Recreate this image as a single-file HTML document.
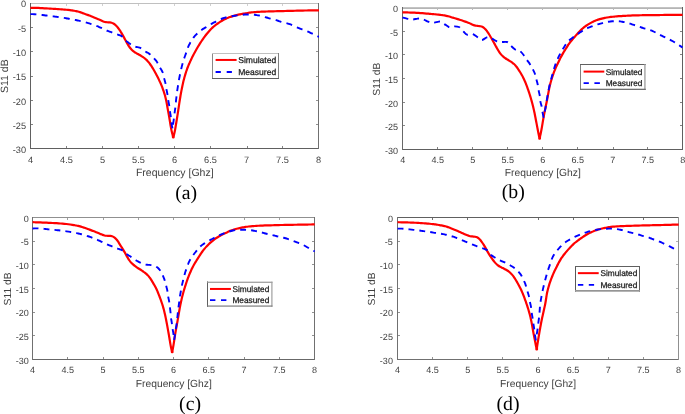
<!DOCTYPE html>
<html lang="en"><head><meta charset="utf-8"><title>S11 plots</title>
<style>
html,body{margin:0;padding:0;background:#fff;}
body{width:685px;height:414px;overflow:hidden;}
svg{display:block;}
text{text-rendering:geometricPrecision;}
.t{font-family:"Liberation Sans",Arial,Helvetica,sans-serif;fill:#404040;}
.lg{stroke:#1a1a1a;stroke-width:0.25px;}
.cap{font-family:"Liberation Serif","Times New Roman",serif;fill:#000;}
</style></head><body>
<svg width="685" height="414" viewBox="0 0 685 414">
<rect width="685" height="414" fill="#fff"/>
<g id="plot-a">
<clipPath id="clip-a"><rect x="30" y="3" width="289" height="146"/></clipPath>
<g shape-rendering="crispEdges">
<rect x="30" y="3" width="289" height="1" fill="#c0c0c0"/><rect x="30" y="148" width="289" height="1" fill="#606060"/><rect x="30" y="3" width="1" height="146" fill="#606060"/><rect x="318" y="3" width="1" height="146" fill="#707070"/>
</g>
<g shape-rendering="crispEdges">
<rect x="66" y="146" width="1" height="2" fill="#828282"/><rect x="66" y="4" width="1" height="2" fill="#d0d0d0"/><rect x="102" y="146" width="1" height="2" fill="#828282"/><rect x="102" y="4" width="1" height="2" fill="#d0d0d0"/><rect x="138" y="146" width="1" height="2" fill="#828282"/><rect x="138" y="4" width="1" height="2" fill="#d0d0d0"/><rect x="174" y="146" width="1" height="2" fill="#828282"/><rect x="174" y="4" width="1" height="2" fill="#d0d0d0"/><rect x="210" y="146" width="1" height="2" fill="#828282"/><rect x="210" y="4" width="1" height="2" fill="#d0d0d0"/><rect x="247" y="146" width="1" height="2" fill="#828282"/><rect x="247" y="4" width="1" height="2" fill="#d0d0d0"/><rect x="282" y="146" width="1" height="2" fill="#828282"/><rect x="282" y="4" width="1" height="2" fill="#d0d0d0"/>
<rect x="31" y="27" width="2" height="1" fill="#828282"/><rect x="316" y="27" width="2" height="1" fill="#929292"/><rect x="31" y="51" width="2" height="1" fill="#828282"/><rect x="316" y="51" width="2" height="1" fill="#929292"/><rect x="31" y="76" width="2" height="1" fill="#828282"/><rect x="316" y="76" width="2" height="1" fill="#929292"/><rect x="31" y="100" width="2" height="1" fill="#828282"/><rect x="316" y="100" width="2" height="1" fill="#929292"/><rect x="31" y="124" width="2" height="1" fill="#828282"/><rect x="316" y="124" width="2" height="1" fill="#929292"/>
</g>
<g clip-path="url(#clip-a)" fill="none" stroke-linejoin="round">
<path d="M30.40 7.80C30.73 7.80 31.73 7.81 32.40 7.82C33.07 7.83 33.73 7.83 34.40 7.85C35.07 7.86 35.74 7.88 36.40 7.90C37.07 7.92 37.73 7.94 38.40 7.97C39.07 8.00 39.73 8.03 40.40 8.07C41.07 8.10 41.73 8.14 42.40 8.17C43.06 8.21 43.73 8.24 44.40 8.28C45.06 8.32 45.73 8.36 46.39 8.40C47.06 8.43 47.73 8.47 48.39 8.51C49.06 8.55 49.72 8.59 50.39 8.63C51.05 8.67 51.72 8.71 52.39 8.76C53.05 8.80 53.72 8.84 54.38 8.88C55.05 8.93 55.76 8.97 56.38 9.01C57.00 9.06 57.50 9.09 58.13 9.13C58.75 9.18 59.46 9.23 60.12 9.27C60.79 9.32 61.45 9.37 62.12 9.42C62.78 9.47 63.45 9.52 64.11 9.57C64.78 9.63 65.44 9.68 66.11 9.74C66.77 9.80 67.43 9.86 68.10 9.93C68.76 10.00 69.42 10.08 70.09 10.16C70.75 10.24 71.41 10.33 72.07 10.43C72.73 10.52 73.39 10.62 74.05 10.73C74.70 10.84 75.36 10.95 76.01 11.08C76.67 11.22 77.32 11.36 77.96 11.53C78.61 11.70 79.24 11.90 79.88 12.10C80.51 12.31 81.14 12.54 81.76 12.77C82.39 13.00 83.01 13.24 83.64 13.47C84.26 13.70 84.89 13.93 85.51 14.16C86.14 14.39 86.77 14.61 87.40 14.84C88.02 15.06 88.65 15.29 89.28 15.53C89.90 15.76 90.52 16.00 91.14 16.25C91.76 16.50 92.37 16.76 92.99 17.02C93.60 17.29 94.21 17.56 94.82 17.82C95.44 18.08 96.05 18.34 96.67 18.59C97.29 18.84 97.92 19.06 98.53 19.30C99.15 19.55 99.76 19.80 100.36 20.08C100.97 20.36 101.54 20.71 102.14 20.99C102.74 21.26 103.35 21.54 103.97 21.74C104.60 21.93 105.25 22.07 105.91 22.16C106.56 22.25 107.23 22.26 107.89 22.30C108.56 22.33 109.27 22.32 109.88 22.39C110.50 22.45 110.99 22.51 111.58 22.69C112.16 22.87 112.81 23.14 113.38 23.46C113.96 23.77 114.50 24.17 115.01 24.59C115.52 25.01 116.00 25.48 116.46 25.96C116.92 26.44 117.34 26.95 117.76 27.47C118.18 27.99 118.57 28.53 118.95 29.07C119.34 29.61 119.70 30.17 120.07 30.73C120.43 31.29 120.77 31.86 121.12 32.43C121.46 33.00 121.80 33.58 122.14 34.16C122.47 34.73 122.80 35.31 123.13 35.90C123.45 36.48 123.77 37.06 124.09 37.65C124.41 38.23 124.73 38.82 125.04 39.41C125.36 40.00 125.67 40.58 125.99 41.17C126.30 41.76 126.61 42.35 126.93 42.94C127.25 43.52 127.57 44.10 127.92 44.67C128.26 45.24 128.62 45.81 129.00 46.36C129.37 46.91 129.76 47.45 130.18 47.97C130.59 48.49 131.02 49.01 131.47 49.49C131.93 49.96 132.42 50.42 132.93 50.85C133.43 51.28 133.97 51.67 134.52 52.04C135.07 52.42 135.65 52.75 136.22 53.09C136.80 53.43 137.39 53.74 137.97 54.07C138.55 54.40 139.12 54.73 139.70 55.07C140.27 55.41 140.84 55.76 141.40 56.12C141.97 56.47 142.53 56.83 143.08 57.21C143.63 57.58 144.18 57.96 144.70 58.38C145.22 58.79 145.76 59.25 146.22 59.67C146.67 60.10 147.02 60.46 147.45 60.91C147.88 61.37 148.35 61.89 148.77 62.41C149.20 62.92 149.60 63.45 149.99 63.99C150.38 64.53 150.75 65.09 151.12 65.65C151.48 66.20 151.84 66.76 152.20 67.33C152.56 67.89 152.91 68.46 153.25 69.03C153.59 69.60 153.93 70.18 154.26 70.75C154.59 71.33 154.92 71.92 155.24 72.50C155.56 73.09 155.88 73.67 156.19 74.26C156.50 74.85 156.80 75.45 157.11 76.04C157.41 76.63 157.71 77.23 158.01 77.83C158.31 78.42 158.60 79.02 158.89 79.62C159.19 80.22 159.48 80.82 159.76 81.42C160.04 82.03 160.32 82.63 160.59 83.24C160.86 83.85 161.12 84.47 161.37 85.08C161.63 85.70 161.87 86.32 162.11 86.95C162.35 87.57 162.57 88.20 162.80 88.82C163.02 89.45 163.24 90.08 163.46 90.71C163.67 91.34 163.88 91.98 164.08 92.61C164.29 93.25 164.49 93.88 164.68 94.52C164.87 95.16 165.05 95.80 165.23 96.45C165.40 97.09 165.56 97.74 165.72 98.39C165.87 99.04 166.01 99.69 166.15 100.34C166.29 100.99 166.42 101.65 166.55 102.30C166.67 102.95 166.79 103.61 166.91 104.27C167.03 104.92 167.14 105.58 167.25 106.24C167.37 106.90 167.48 107.55 167.60 108.21C167.71 108.87 167.84 109.56 167.95 110.18C168.06 110.80 168.15 111.29 168.26 111.90C168.38 112.52 168.50 113.21 168.62 113.87C168.74 114.53 168.86 115.18 168.98 115.84C169.09 116.50 169.21 117.15 169.32 117.81C169.44 118.47 169.55 119.13 169.66 119.78C169.77 120.44 169.88 121.10 169.99 121.76C170.09 122.42 170.20 123.07 170.30 123.73C170.41 124.39 170.51 125.05 170.62 125.71C170.73 126.37 170.84 127.02 170.96 127.68C171.08 128.34 171.20 128.99 171.33 129.65C171.46 130.30 171.60 130.95 171.75 131.60C171.90 132.25 172.07 132.90 172.23 133.54C172.40 134.19 172.63 134.83 172.76 135.47C172.89 136.12 172.96 137.08 173.00 137.40L173.60 137.40C173.64 137.08 173.70 136.12 173.82 135.47C173.94 134.83 174.15 134.18 174.31 133.53C174.46 132.88 174.60 132.23 174.73 131.58C174.87 130.93 174.99 130.27 175.11 129.62C175.23 128.96 175.34 128.31 175.46 127.65C175.57 126.99 175.68 126.33 175.79 125.68C175.90 125.02 176.00 124.36 176.11 123.70C176.22 123.04 176.32 122.39 176.43 121.73C176.54 121.07 176.64 120.41 176.75 119.75C176.86 119.10 176.96 118.44 177.07 117.78C177.17 117.12 177.28 116.46 177.38 115.80C177.49 115.15 177.59 114.49 177.70 113.83C177.80 113.17 177.90 112.51 178.01 111.85C178.11 111.19 178.22 110.49 178.31 109.88C178.41 109.26 178.48 108.76 178.57 108.15C178.67 107.53 178.77 106.83 178.87 106.17C178.97 105.51 179.07 104.85 179.17 104.19C179.27 103.53 179.37 102.87 179.47 102.21C179.57 101.55 179.67 100.89 179.77 100.24C179.88 99.58 179.98 98.92 180.09 98.26C180.20 97.60 180.31 96.94 180.42 96.29C180.53 95.63 180.64 94.97 180.76 94.32C180.87 93.66 180.99 93.00 181.11 92.35C181.23 91.69 181.36 91.04 181.48 90.38C181.61 89.73 181.74 89.08 181.87 88.42C182.00 87.77 182.14 87.12 182.28 86.46C182.41 85.81 182.55 85.16 182.70 84.51C182.84 83.86 182.99 83.21 183.14 82.56C183.29 81.91 183.44 81.26 183.60 80.61C183.76 79.97 183.93 79.32 184.10 78.67C184.27 78.03 184.44 77.39 184.62 76.75C184.80 76.10 184.99 75.46 185.18 74.82C185.37 74.19 185.56 73.55 185.76 72.91C185.97 72.28 186.17 71.64 186.39 71.01C186.60 70.38 186.82 69.75 187.05 69.13C187.28 68.50 187.51 67.88 187.75 67.26C188.00 66.64 188.25 66.02 188.51 65.41C188.76 64.79 189.03 64.18 189.30 63.57C189.56 62.96 189.84 62.35 190.11 61.74C190.38 61.13 190.66 60.53 190.94 59.92C191.23 59.32 191.51 58.72 191.80 58.12C192.09 57.52 192.39 56.92 192.69 56.32C192.99 55.73 193.31 55.10 193.60 54.55C193.89 53.99 194.13 53.55 194.43 53.00C194.72 52.45 195.07 51.83 195.39 51.25C195.71 50.67 196.04 50.09 196.37 49.51C196.70 48.93 197.04 48.35 197.37 47.78C197.71 47.20 198.05 46.63 198.39 46.06C198.73 45.48 199.08 44.91 199.43 44.35C199.78 43.78 200.14 43.22 200.50 42.66C200.86 42.10 201.22 41.54 201.59 40.99C201.96 40.43 202.34 39.88 202.72 39.33C203.10 38.79 203.49 38.24 203.88 37.70C204.27 37.16 204.66 36.63 205.06 36.09C205.47 35.56 205.87 35.03 206.28 34.51C206.70 33.99 207.11 33.47 207.54 32.95C207.96 32.44 208.39 31.93 208.83 31.43C209.26 30.93 209.71 30.43 210.17 29.95C210.62 29.46 211.09 28.99 211.57 28.53C212.04 28.06 212.53 27.61 213.03 27.17C213.53 26.73 214.04 26.30 214.56 25.88C215.07 25.47 215.60 25.06 216.13 24.66C216.66 24.25 217.20 23.86 217.74 23.48C218.29 23.10 218.84 22.72 219.40 22.36C219.95 21.99 220.52 21.64 221.09 21.29C221.66 20.95 222.23 20.61 222.81 20.29C223.39 19.96 223.98 19.65 224.57 19.35C225.17 19.05 225.77 18.77 226.38 18.50C226.98 18.23 227.60 17.97 228.22 17.73C228.84 17.48 229.46 17.25 230.09 17.03C230.72 16.81 231.39 16.59 231.98 16.39C232.58 16.20 233.05 16.05 233.65 15.88C234.25 15.70 234.93 15.50 235.58 15.33C236.22 15.16 236.87 14.99 237.51 14.84C238.16 14.68 238.81 14.54 239.46 14.40C240.11 14.26 240.77 14.13 241.42 14.00C242.08 13.88 242.73 13.76 243.39 13.64C244.05 13.53 244.70 13.42 245.36 13.31C246.02 13.20 246.68 13.10 247.34 13.00C248.00 12.90 248.65 12.80 249.32 12.71C249.98 12.62 250.64 12.54 251.30 12.46C251.96 12.38 252.62 12.30 253.29 12.23C253.95 12.17 254.61 12.10 255.28 12.05C255.94 11.99 256.60 11.94 257.27 11.90C257.93 11.85 258.60 11.82 259.27 11.78C259.93 11.75 260.60 11.72 261.26 11.69C261.93 11.66 262.60 11.64 263.26 11.62C263.93 11.59 264.59 11.57 265.26 11.55C265.93 11.53 266.59 11.51 267.26 11.49C267.93 11.47 268.59 11.45 269.26 11.43C269.93 11.41 270.59 11.39 271.26 11.37C271.93 11.36 272.59 11.34 273.26 11.32C273.92 11.30 274.59 11.28 275.26 11.27C275.92 11.25 276.59 11.23 277.26 11.21C277.92 11.19 278.59 11.17 279.26 11.16C279.92 11.14 280.59 11.12 281.26 11.10C281.92 11.08 282.59 11.06 283.26 11.04C283.92 11.02 284.59 11.00 285.25 10.99C285.92 10.97 286.59 10.95 287.25 10.93C287.92 10.91 288.63 10.89 289.25 10.88C289.88 10.86 290.38 10.85 291.00 10.83C291.63 10.81 292.34 10.80 293.00 10.78C293.67 10.76 294.34 10.74 295.00 10.73C295.67 10.71 296.34 10.69 297.00 10.68C297.67 10.66 298.33 10.65 299.00 10.63C299.67 10.62 300.33 10.60 301.00 10.59C301.67 10.58 302.33 10.56 303.00 10.55C303.67 10.54 304.33 10.53 305.00 10.51C305.67 10.50 306.33 10.49 307.00 10.48C307.67 10.47 308.33 10.46 309.00 10.45C309.67 10.44 310.33 10.43 311.00 10.42C311.67 10.41 312.33 10.40 313.00 10.39C313.67 10.38 314.33 10.37 315.00 10.36C315.67 10.35 316.33 10.34 317.00 10.33C317.67 10.32 318.67 10.30 319.00 10.30" stroke="#ff0000" stroke-width="2.20"/>
<path d="M30.40 14.10C30.73 14.11 31.73 14.12 32.40 14.14C33.07 14.16 33.73 14.18 34.40 14.21C35.07 14.24 35.73 14.28 36.40 14.34C37.06 14.39 37.72 14.46 38.39 14.52C39.05 14.59 39.71 14.67 40.37 14.75C41.04 14.83 41.70 14.91 42.36 15.00C43.02 15.08 43.68 15.16 44.35 15.24C45.01 15.32 45.67 15.40 46.33 15.49C46.99 15.57 47.65 15.65 48.32 15.73C48.98 15.82 49.64 15.90 50.30 15.98C50.96 16.07 51.62 16.15 52.29 16.24C52.95 16.33 53.61 16.41 54.27 16.50C54.93 16.59 55.63 16.69 56.25 16.77C56.87 16.85 57.37 16.92 57.99 17.01C58.61 17.09 59.31 17.19 59.97 17.28C60.63 17.38 61.29 17.47 61.95 17.57C62.61 17.67 63.27 17.77 63.93 17.87C64.58 17.97 65.24 18.08 65.90 18.19C66.56 18.30 67.22 18.41 67.87 18.53C68.53 18.64 69.19 18.76 69.84 18.88C70.50 19.00 71.15 19.12 71.81 19.25C72.46 19.37 73.12 19.50 73.77 19.63C74.43 19.76 75.08 19.90 75.73 20.03C76.38 20.17 77.04 20.31 77.69 20.45C78.34 20.59 78.99 20.74 79.64 20.88C80.29 21.03 80.94 21.17 81.59 21.32C82.24 21.47 82.89 21.63 83.54 21.79C84.19 21.95 84.83 22.12 85.48 22.29C86.12 22.47 86.76 22.65 87.40 22.84C88.04 23.02 88.68 23.22 89.31 23.42C89.95 23.63 90.58 23.84 91.21 24.05C91.84 24.27 92.47 24.49 93.10 24.71C93.73 24.93 94.36 25.16 94.98 25.39C95.61 25.62 96.24 25.85 96.86 26.08C97.48 26.32 98.11 26.56 98.72 26.81C99.34 27.05 99.96 27.30 100.57 27.57C101.18 27.84 101.78 28.13 102.38 28.43C102.97 28.72 103.56 29.05 104.15 29.35C104.75 29.64 105.39 29.95 105.96 30.20C106.53 30.46 107.00 30.64 107.58 30.86C108.16 31.08 108.83 31.32 109.46 31.54C110.08 31.77 110.71 31.99 111.34 32.22C111.97 32.45 112.59 32.69 113.21 32.92C113.84 33.16 114.46 33.40 115.09 33.63C115.71 33.86 116.34 34.10 116.96 34.32C117.59 34.55 118.22 34.76 118.85 34.99C119.47 35.22 120.11 35.43 120.70 35.72C121.30 36.00 121.89 36.30 122.41 36.69C122.93 37.08 123.38 37.56 123.82 38.05C124.26 38.54 124.60 39.11 125.03 39.62C125.45 40.13 125.88 40.63 126.36 41.08C126.84 41.54 127.37 41.94 127.90 42.34C128.43 42.75 128.98 43.12 129.53 43.51C130.07 43.90 130.61 44.29 131.16 44.66C131.71 45.04 132.25 45.43 132.83 45.75C133.41 46.07 134.00 46.37 134.62 46.58C135.24 46.79 135.90 46.91 136.54 47.04C137.19 47.17 137.86 47.21 138.50 47.36C139.14 47.51 139.78 47.69 140.37 47.96C140.97 48.23 141.53 48.59 142.07 48.96C142.62 49.33 143.12 49.78 143.66 50.18C144.19 50.57 144.72 50.98 145.27 51.35C145.82 51.72 146.41 52.04 146.98 52.38C147.55 52.72 148.14 53.03 148.70 53.39C149.25 53.76 149.82 54.18 150.29 54.58C150.77 54.97 151.13 55.33 151.57 55.77C152.01 56.21 152.49 56.73 152.95 57.21C153.40 57.70 153.86 58.19 154.30 58.68C154.75 59.18 155.20 59.67 155.62 60.19C156.04 60.70 156.45 61.23 156.82 61.78C157.19 62.33 157.52 62.91 157.83 63.49C158.15 64.08 158.42 64.69 158.72 65.28C159.03 65.88 159.33 66.47 159.66 67.05C159.99 67.63 160.36 68.18 160.71 68.75C161.06 69.31 161.44 69.86 161.76 70.44C162.08 71.02 162.38 71.62 162.61 72.23C162.85 72.85 163.02 73.49 163.19 74.14C163.35 74.78 163.46 75.44 163.60 76.09C163.75 76.74 163.89 77.39 164.05 78.04C164.22 78.68 164.41 79.32 164.59 79.96C164.77 80.61 164.97 81.24 165.13 81.89C165.30 82.53 165.45 83.18 165.57 83.84C165.69 84.49 165.78 85.15 165.87 85.81C165.97 86.47 166.05 87.13 166.16 87.79C166.26 88.45 166.39 89.10 166.52 89.76C166.65 90.41 166.81 91.06 166.94 91.71C167.08 92.36 167.21 93.02 167.33 93.67C167.44 94.33 167.54 94.99 167.63 95.65C167.72 96.31 167.79 96.97 167.88 97.64C167.96 98.30 168.04 98.96 168.14 99.62C168.24 100.28 168.37 100.97 168.48 101.59C168.59 102.20 168.71 102.69 168.82 103.30C168.94 103.92 169.07 104.61 169.18 105.27C169.28 105.93 169.36 106.59 169.44 107.25C169.52 107.92 169.59 108.58 169.67 109.24C169.75 109.90 169.82 110.57 169.92 111.23C170.02 111.88 170.14 112.54 170.25 113.20C170.36 113.85 170.49 114.51 170.60 115.17C170.70 115.83 170.78 116.49 170.85 117.15C170.92 117.81 170.96 118.48 171.01 119.14C171.07 119.81 171.10 120.47 171.17 121.14C171.24 121.80 171.32 122.46 171.42 123.12C171.51 123.78 171.64 124.43 171.76 125.09C171.89 125.74 172.03 126.39 172.17 127.05C172.31 127.70 172.53 128.67 172.60 129.00C172.63 128.67 172.73 127.67 172.79 127.01C172.86 126.35 172.93 125.68 173.01 125.02C173.09 124.36 173.17 123.70 173.26 123.04C173.35 122.38 173.45 121.72 173.54 121.06C173.64 120.40 173.73 119.74 173.82 119.08C173.91 118.42 174.00 117.76 174.08 117.10C174.16 116.43 174.24 115.77 174.32 115.11C174.40 114.45 174.48 113.79 174.57 113.13C174.66 112.47 174.75 111.81 174.84 111.15C174.94 110.49 175.04 109.83 175.12 109.17C175.21 108.51 175.30 107.85 175.38 107.18C175.45 106.52 175.52 105.86 175.59 105.20C175.65 104.53 175.71 103.87 175.77 103.20C175.83 102.54 175.89 101.88 175.96 101.21C176.02 100.55 176.10 99.89 176.17 99.22C176.24 98.56 176.32 97.90 176.40 97.24C176.48 96.58 176.56 95.91 176.64 95.25C176.72 94.59 176.80 93.93 176.89 93.27C176.98 92.61 177.06 91.99 177.15 91.29C177.25 90.58 177.37 89.76 177.48 89.06C177.58 88.36 177.68 87.74 177.78 87.08C177.89 86.42 177.99 85.77 178.10 85.11C178.20 84.45 178.30 83.79 178.41 83.13C178.52 82.47 178.63 81.82 178.74 81.16C178.85 80.50 178.96 79.84 179.08 79.19C179.20 78.53 179.33 77.88 179.45 77.22C179.58 76.57 179.71 75.92 179.84 75.26C179.98 74.61 180.11 73.96 180.25 73.30C180.38 72.65 180.52 72.00 180.66 71.35C180.80 70.69 180.94 70.04 181.10 69.39C181.25 68.75 181.40 68.10 181.57 67.45C181.73 66.80 181.90 66.16 182.07 65.52C182.24 64.87 182.42 64.23 182.60 63.59C182.78 62.95 182.96 62.30 183.15 61.66C183.34 61.03 183.53 60.39 183.73 59.75C183.93 59.11 184.13 58.48 184.35 57.85C184.56 57.22 184.79 56.59 185.02 55.97C185.25 55.34 185.49 54.72 185.71 54.09C185.94 53.47 186.16 52.84 186.37 52.21C186.59 51.58 186.78 50.94 186.99 50.31C187.20 49.68 187.39 49.04 187.61 48.41C187.83 47.79 188.06 47.16 188.31 46.55C188.57 45.94 188.85 45.34 189.15 44.75C189.45 44.15 189.78 43.58 190.11 43.00C190.43 42.42 190.78 41.85 191.12 41.28C191.46 40.71 191.81 40.14 192.17 39.58C192.53 39.02 192.90 38.46 193.29 37.93C193.68 37.39 194.09 36.87 194.52 36.37C194.95 35.86 195.41 35.38 195.87 34.90C196.33 34.43 196.82 33.97 197.30 33.51C197.79 33.06 198.29 32.61 198.79 32.18C199.30 31.74 199.80 31.31 200.33 30.90C200.85 30.49 201.38 30.09 201.93 29.71C202.47 29.33 203.03 28.97 203.59 28.62C204.15 28.26 204.73 27.93 205.30 27.59C205.87 27.24 206.44 26.90 207.01 26.56C207.58 26.21 208.11 25.88 208.71 25.51C209.32 25.14 210.02 24.70 210.63 24.34C211.24 23.98 211.79 23.67 212.37 23.35C212.95 23.03 213.55 22.72 214.14 22.42C214.73 22.11 215.33 21.82 215.93 21.53C216.53 21.23 217.13 20.94 217.73 20.65C218.33 20.37 218.93 20.08 219.54 19.80C220.14 19.52 220.75 19.25 221.36 19.00C221.98 18.74 222.60 18.49 223.22 18.27C223.85 18.05 224.48 17.84 225.12 17.65C225.76 17.47 226.40 17.30 227.05 17.14C227.69 16.98 228.35 16.85 229.00 16.71C229.65 16.58 230.31 16.46 230.96 16.34C231.62 16.22 232.28 16.11 232.93 16.00C233.59 15.90 234.25 15.80 234.91 15.70C235.57 15.60 236.23 15.51 236.89 15.42C237.55 15.33 238.21 15.24 238.87 15.16C239.54 15.07 240.20 14.99 240.86 14.91C241.52 14.84 242.18 14.76 242.85 14.70C243.51 14.64 244.17 14.59 244.84 14.55C245.50 14.51 246.17 14.49 246.84 14.47C247.50 14.45 248.17 14.44 248.83 14.45C249.50 14.45 250.17 14.46 250.83 14.49C251.50 14.52 252.16 14.56 252.83 14.61C253.49 14.66 254.15 14.73 254.81 14.81C255.47 14.89 256.13 14.98 256.79 15.09C257.45 15.19 258.10 15.32 258.76 15.45C259.41 15.58 260.06 15.73 260.70 15.89C261.35 16.05 261.99 16.22 262.64 16.40C263.28 16.58 263.92 16.77 264.56 16.96C265.20 17.14 265.83 17.34 266.47 17.53C267.11 17.72 267.75 17.91 268.39 18.09C269.03 18.27 269.68 18.45 270.32 18.62C270.96 18.79 271.61 18.95 272.26 19.11C272.90 19.28 273.55 19.43 274.20 19.60C274.84 19.77 275.48 19.94 276.12 20.14C276.75 20.33 277.39 20.54 278.02 20.75C278.65 20.96 279.27 21.18 279.91 21.39C280.54 21.59 281.13 21.79 281.81 21.98C282.49 22.17 283.30 22.36 283.98 22.53C284.67 22.70 285.28 22.84 285.92 23.01C286.57 23.17 287.21 23.35 287.84 23.55C288.48 23.74 289.11 23.96 289.73 24.19C290.35 24.42 290.97 24.67 291.59 24.93C292.20 25.18 292.81 25.45 293.42 25.72C294.03 25.99 294.64 26.27 295.25 26.54C295.85 26.81 296.46 27.09 297.07 27.36C297.68 27.63 298.29 27.90 298.90 28.16C299.52 28.42 300.13 28.67 300.75 28.92C301.37 29.16 302.00 29.39 302.62 29.62C303.25 29.85 303.88 30.07 304.51 30.29C305.13 30.51 305.76 30.73 306.39 30.96C307.01 31.20 307.63 31.44 308.24 31.70C308.85 31.96 309.46 32.24 310.06 32.53C310.66 32.81 311.26 33.11 311.85 33.41C312.45 33.71 313.04 34.01 313.64 34.31C314.23 34.61 314.83 34.91 315.42 35.21C316.02 35.51 316.61 35.81 317.21 36.11C317.81 36.40 318.70 36.85 319.00 37.00" stroke="#0000ff" stroke-width="1.90" stroke-dasharray="6.000 5.215"/>
</g>
<g class="t" font-size="9.20">
<text x="30.45" y="162.80" text-anchor="middle">4</text><text x="66.45" y="162.80" text-anchor="middle">4.5</text><text x="102.45" y="162.80" text-anchor="middle">5</text><text x="138.45" y="162.80" text-anchor="middle">5.5</text><text x="174.45" y="162.80" text-anchor="middle">6</text><text x="210.45" y="162.80" text-anchor="middle">6.5</text><text x="246.45" y="162.80" text-anchor="middle">7</text><text x="282.45" y="162.80" text-anchor="middle">7.5</text><text x="318.45" y="162.80" text-anchor="middle">8</text>
<text x="26.10" y="7.15" text-anchor="end">0</text><text x="26.10" y="32.12" text-anchor="end">-5</text><text x="26.10" y="56.28" text-anchor="end">-10</text><text x="26.10" y="80.45" text-anchor="end">-15</text><text x="26.10" y="104.62" text-anchor="end">-20</text><text x="26.10" y="128.78" text-anchor="end">-25</text><text x="26.10" y="152.95" text-anchor="end">-30</text>
</g>
<text class="t" font-size="10.50" x="174.75" y="176.30" text-anchor="middle">Frequency [Ghz]</text>
<text class="t" font-size="10.50" text-anchor="middle" transform="translate(8.20 76.20) rotate(-90)">S11 dB</text>
<rect x="212.00" y="53.00" width="67.00" height="26.00" fill="#fff"/>
<rect x="212.00" y="53.00" width="1.00" height="26.00" fill="#888888"/><rect x="212.00" y="53.00" width="67.00" height="1.00" fill="#c0c0c0"/><rect x="278.00" y="53.00" width="1.00" height="26.00" fill="#808080"/><rect x="212.00" y="78.00" width="67.00" height="1.00" fill="#606060"/>
<path d="M215.60 59.95H236.60" stroke="#ff0000" stroke-width="2.00" fill="none"/>
<path d="M215.60 71.95H220.85M226.70 71.95H231.90" stroke="#0000ff" stroke-width="1.90" fill="none"/>
<text class="t lg" style="fill:#1a1a1a" font-size="8.55" x="238.20" y="63.10">Simulated</text>
<text class="t lg" style="fill:#1a1a1a" font-size="8.55" x="238.20" y="75.30">Measured</text>
<text class="cap" font-size="19.80" x="186.20" y="198.70" text-anchor="middle">(a)</text>
</g>
<g id="plot-b">
<clipPath id="clip-b"><rect x="402" y="7" width="281" height="143"/></clipPath>
<g shape-rendering="crispEdges">
</g><rect x="402" y="7.35" width="281" height="1.45" fill="#a4a4a4"/><g shape-rendering="crispEdges"><rect x="402" y="149" width="281" height="1" fill="#606060"/><rect x="402" y="7" width="1" height="143" fill="#686868"/><rect x="682" y="7" width="1" height="143" fill="#606060"/>
</g>
<g shape-rendering="crispEdges">
<rect x="437" y="147" width="1" height="2" fill="#828282"/><rect x="437" y="8" width="1" height="2" fill="#b8b8b8"/><rect x="472" y="147" width="1" height="2" fill="#828282"/><rect x="472" y="8" width="1" height="2" fill="#b8b8b8"/><rect x="507" y="147" width="1" height="2" fill="#828282"/><rect x="507" y="8" width="1" height="2" fill="#b8b8b8"/><rect x="542" y="147" width="1" height="2" fill="#828282"/><rect x="542" y="8" width="1" height="2" fill="#b8b8b8"/><rect x="577" y="147" width="1" height="2" fill="#828282"/><rect x="577" y="8" width="1" height="2" fill="#b8b8b8"/><rect x="613" y="147" width="1" height="2" fill="#828282"/><rect x="613" y="8" width="1" height="2" fill="#b8b8b8"/><rect x="647" y="147" width="1" height="2" fill="#828282"/><rect x="647" y="8" width="1" height="2" fill="#b8b8b8"/>
<rect x="403" y="31" width="2" height="1" fill="#8a8a8a"/><rect x="680" y="31" width="2" height="1" fill="#828282"/><rect x="403" y="54" width="2" height="1" fill="#8a8a8a"/><rect x="680" y="54" width="2" height="1" fill="#828282"/><rect x="403" y="78" width="2" height="1" fill="#8a8a8a"/><rect x="680" y="78" width="2" height="1" fill="#828282"/><rect x="403" y="102" width="2" height="1" fill="#8a8a8a"/><rect x="680" y="102" width="2" height="1" fill="#828282"/><rect x="403" y="125" width="2" height="1" fill="#8a8a8a"/><rect x="680" y="125" width="2" height="1" fill="#828282"/>
</g>
<g clip-path="url(#clip-b)" fill="none" stroke-linejoin="round">
<path d="M402.50 12.30C402.83 12.31 403.83 12.34 404.50 12.36C405.17 12.38 405.83 12.40 406.50 12.42C407.17 12.44 407.83 12.46 408.50 12.48C409.17 12.50 409.84 12.52 410.50 12.54C411.17 12.56 411.84 12.59 412.50 12.61C413.17 12.64 413.84 12.66 414.50 12.69C415.17 12.72 415.84 12.75 416.50 12.79C417.17 12.83 417.83 12.87 418.50 12.91C419.16 12.95 419.83 13.00 420.50 13.05C421.16 13.10 421.83 13.15 422.49 13.20C423.16 13.25 423.82 13.31 424.49 13.37C425.15 13.42 425.82 13.48 426.48 13.54C427.14 13.60 427.81 13.66 428.47 13.72C429.14 13.78 429.80 13.84 430.47 13.90C431.13 13.96 431.80 14.02 432.46 14.08C433.12 14.14 433.79 14.21 434.45 14.27C435.12 14.34 435.78 14.40 436.44 14.47C437.11 14.54 437.77 14.62 438.43 14.69C439.10 14.77 439.76 14.84 440.42 14.92C441.08 15.00 441.75 15.07 442.41 15.16C443.07 15.25 443.73 15.33 444.39 15.44C445.05 15.54 445.70 15.66 446.36 15.80C447.01 15.93 447.66 16.09 448.30 16.26C448.95 16.43 449.58 16.62 450.22 16.82C450.86 17.01 451.49 17.23 452.13 17.43C452.76 17.63 453.44 17.85 454.03 18.04C454.63 18.23 455.11 18.38 455.71 18.56C456.31 18.74 456.99 18.94 457.62 19.13C458.26 19.32 458.90 19.51 459.54 19.71C460.18 19.91 460.81 20.11 461.44 20.32C462.08 20.53 462.71 20.75 463.34 20.97C463.97 21.19 464.60 21.41 465.23 21.63C465.86 21.85 466.49 22.08 467.11 22.31C467.74 22.54 468.36 22.77 468.98 23.02C469.59 23.28 470.20 23.56 470.80 23.84C471.41 24.12 471.99 24.44 472.60 24.69C473.22 24.94 473.84 25.17 474.48 25.34C475.12 25.52 475.78 25.63 476.43 25.73C477.09 25.83 477.76 25.88 478.42 25.97C479.08 26.05 479.75 26.09 480.39 26.23C481.03 26.37 481.68 26.53 482.27 26.80C482.87 27.06 483.44 27.41 483.96 27.80C484.48 28.19 484.95 28.67 485.40 29.16C485.85 29.64 486.25 30.18 486.65 30.71C487.05 31.24 487.43 31.79 487.81 32.34C488.18 32.89 488.54 33.46 488.90 34.02C489.25 34.58 489.60 35.16 489.94 35.73C490.28 36.30 490.62 36.87 490.96 37.45C491.30 38.03 491.63 38.60 491.97 39.18C492.30 39.76 492.63 40.34 492.95 40.92C493.28 41.50 493.61 42.08 493.93 42.67C494.25 43.25 494.57 43.84 494.89 44.43C495.21 45.01 495.52 45.60 495.84 46.19C496.16 46.77 496.48 47.36 496.81 47.94C497.14 48.52 497.47 49.10 497.81 49.67C498.15 50.24 498.49 50.82 498.85 51.38C499.21 51.94 499.57 52.50 499.97 53.04C500.36 53.57 500.77 54.10 501.20 54.60C501.64 55.10 502.10 55.59 502.59 56.04C503.07 56.50 503.58 56.93 504.10 57.34C504.63 57.75 505.18 58.13 505.73 58.50C506.28 58.87 506.85 59.21 507.42 59.56C507.99 59.91 508.57 60.24 509.14 60.58C509.71 60.93 510.29 61.27 510.84 61.64C511.40 62.00 511.95 62.38 512.49 62.78C513.02 63.18 513.54 63.59 514.03 64.04C514.52 64.49 514.98 64.97 515.42 65.46C515.87 65.96 516.27 66.49 516.67 67.02C517.07 67.55 517.45 68.11 517.83 68.66C518.20 69.20 518.57 69.76 518.94 70.32C519.31 70.87 519.67 71.43 520.03 72.00C520.39 72.56 520.75 73.12 521.09 73.69C521.43 74.26 521.77 74.84 522.10 75.42C522.42 76.01 522.73 76.60 523.03 77.19C523.33 77.79 523.62 78.39 523.90 78.99C524.18 79.60 524.45 80.21 524.71 80.82C524.97 81.44 525.23 82.05 525.48 82.67C525.73 83.29 525.97 83.91 526.21 84.53C526.45 85.15 526.70 85.82 526.92 86.40C527.14 86.99 527.31 87.46 527.52 88.05C527.73 88.64 527.97 89.31 528.19 89.94C528.41 90.57 528.62 91.20 528.84 91.83C529.05 92.46 529.26 93.10 529.46 93.73C529.67 94.37 529.87 95.00 530.06 95.64C530.26 96.28 530.45 96.92 530.64 97.56C530.83 98.20 531.01 98.84 531.19 99.48C531.38 100.12 531.55 100.76 531.73 101.41C531.91 102.05 532.08 102.69 532.25 103.34C532.42 103.98 532.59 104.63 532.76 105.28C532.92 105.92 533.09 106.57 533.24 107.22C533.40 107.87 533.55 108.52 533.70 109.17C533.85 109.82 534.00 110.47 534.14 111.12C534.28 111.77 534.41 112.42 534.55 113.08C534.68 113.73 534.81 114.39 534.94 115.04C535.07 115.69 535.20 116.35 535.32 117.00C535.45 117.66 535.58 118.31 535.70 118.97C535.83 119.63 535.95 120.28 536.08 120.94C536.21 121.59 536.33 122.25 536.46 122.90C536.58 123.56 536.71 124.21 536.83 124.87C536.96 125.52 537.08 126.18 537.20 126.83C537.33 127.49 537.45 128.15 537.57 128.80C537.70 129.46 537.82 130.11 537.95 130.77C538.07 131.42 538.20 132.08 538.33 132.73C538.47 133.38 538.60 134.04 538.74 134.69C538.88 135.34 539.07 135.99 539.17 136.65C539.26 137.30 539.28 138.27 539.30 138.60L539.90 138.60C539.92 138.27 539.93 137.30 540.03 136.65C540.12 135.99 540.31 135.34 540.45 134.69C540.58 134.04 540.72 133.38 540.85 132.73C540.99 132.08 541.12 131.42 541.24 130.77C541.37 130.11 541.49 129.46 541.61 128.80C541.73 128.15 541.84 127.49 541.95 126.83C542.07 126.18 542.18 125.52 542.29 124.86C542.40 124.20 542.51 123.54 542.62 122.89C542.73 122.23 542.84 121.57 542.95 120.91C543.06 120.26 543.17 119.60 543.29 118.94C543.41 118.29 543.52 117.63 543.64 116.97C543.76 116.32 543.88 115.66 544.00 115.01C544.13 114.35 544.25 113.70 544.38 113.04C544.50 112.39 544.63 111.73 544.76 111.08C544.89 110.42 545.02 109.77 545.16 109.12C545.29 108.46 545.43 107.81 545.57 107.16C545.70 106.51 545.84 105.85 545.98 105.20C546.12 104.55 546.27 103.90 546.40 103.25C546.54 102.59 546.68 101.94 546.81 101.29C546.94 100.63 547.07 99.98 547.20 99.33C547.33 98.67 547.45 98.02 547.57 97.36C547.69 96.70 547.81 96.05 547.93 95.39C548.05 94.73 548.16 94.08 548.28 93.42C548.40 92.77 548.51 92.11 548.64 91.45C548.76 90.80 548.88 90.14 549.01 89.49C549.14 88.83 549.27 88.18 549.41 87.53C549.55 86.88 549.69 86.23 549.85 85.58C550.00 84.93 550.17 84.24 550.33 83.64C550.49 83.03 550.62 82.55 550.79 81.95C550.96 81.35 551.16 80.67 551.36 80.03C551.55 79.39 551.75 78.76 551.95 78.12C552.15 77.49 552.36 76.85 552.57 76.22C552.77 75.59 552.99 74.95 553.20 74.32C553.42 73.69 553.64 73.06 553.87 72.44C554.10 71.81 554.33 71.19 554.57 70.57C554.81 69.95 555.06 69.33 555.32 68.71C555.58 68.10 555.85 67.49 556.13 66.88C556.40 66.28 556.69 65.68 556.98 65.07C557.26 64.47 557.56 63.87 557.85 63.28C558.14 62.68 558.43 62.08 558.72 61.48C559.02 60.88 559.31 60.28 559.60 59.68C559.89 59.08 560.18 58.48 560.48 57.88C560.78 57.29 561.08 56.70 561.40 56.11C561.71 55.52 562.03 54.94 562.36 54.36C562.69 53.78 563.03 53.20 563.37 52.63C563.72 52.06 564.07 51.50 564.42 50.93C564.78 50.37 565.14 49.80 565.49 49.24C565.85 48.68 566.21 48.12 566.57 47.56C566.93 46.99 567.29 46.43 567.65 45.87C568.01 45.31 568.38 44.75 568.75 44.20C569.12 43.65 569.50 43.10 569.89 42.57C570.28 42.03 570.68 41.50 571.10 40.97C571.51 40.45 571.94 39.94 572.37 39.43C572.80 38.92 573.24 38.43 573.68 37.93C574.12 37.42 574.56 36.93 575.00 36.43C575.44 35.93 575.88 35.43 576.33 34.93C576.77 34.43 577.20 33.93 577.65 33.43C578.09 32.93 578.54 32.44 579.00 31.95C579.45 31.47 579.91 30.99 580.39 30.52C580.86 30.05 581.34 29.59 581.83 29.15C582.33 28.70 582.83 28.27 583.35 27.85C583.87 27.43 584.39 27.03 584.93 26.64C585.47 26.25 586.02 25.87 586.57 25.50C587.12 25.13 587.68 24.77 588.25 24.42C588.81 24.06 589.38 23.71 589.95 23.38C590.53 23.04 591.11 22.71 591.69 22.40C592.28 22.08 592.87 21.78 593.47 21.50C594.07 21.22 594.68 20.95 595.30 20.71C595.92 20.46 596.54 20.23 597.17 20.01C597.80 19.79 598.43 19.59 599.07 19.39C599.70 19.20 600.35 19.02 600.99 18.84C601.63 18.67 602.28 18.51 602.93 18.35C603.57 18.20 604.22 18.05 604.88 17.92C605.53 17.78 606.18 17.66 606.84 17.54C607.50 17.43 608.15 17.32 608.81 17.22C609.47 17.13 610.13 17.04 610.79 16.96C611.46 16.87 612.12 16.80 612.78 16.73C613.44 16.66 614.11 16.60 614.77 16.54C615.44 16.48 616.10 16.42 616.77 16.37C617.43 16.32 618.09 16.27 618.76 16.22C619.43 16.17 620.09 16.13 620.76 16.09C621.42 16.05 622.09 16.01 622.75 15.97C623.42 15.93 624.13 15.89 624.75 15.85C625.37 15.82 625.87 15.79 626.50 15.76C627.12 15.72 627.83 15.69 628.50 15.65C629.16 15.62 629.83 15.58 630.49 15.55C631.16 15.52 631.83 15.49 632.49 15.46C633.16 15.44 633.82 15.41 634.49 15.39C635.16 15.36 635.82 15.34 636.49 15.32C637.16 15.31 637.82 15.29 638.49 15.28C639.16 15.26 639.82 15.25 640.49 15.24C641.16 15.23 641.82 15.22 642.49 15.21C643.16 15.20 643.82 15.20 644.49 15.19C645.16 15.18 645.83 15.18 646.49 15.17C647.16 15.17 647.83 15.16 648.49 15.16C649.16 15.15 649.83 15.15 650.49 15.14C651.16 15.14 651.83 15.13 652.49 15.12C653.16 15.12 653.83 15.11 654.49 15.11C655.16 15.10 655.83 15.09 656.49 15.08C657.16 15.07 657.83 15.06 658.49 15.05C659.16 15.04 659.83 15.03 660.50 15.02C661.16 15.01 661.83 15.00 662.50 14.99C663.16 14.98 663.83 14.97 664.50 14.95C665.16 14.94 665.83 14.93 666.50 14.93C667.16 14.92 667.83 14.91 668.50 14.90C669.16 14.89 669.83 14.89 670.50 14.88C671.16 14.87 671.83 14.87 672.50 14.86C673.16 14.86 673.83 14.85 674.50 14.85C675.16 14.84 675.83 14.84 676.50 14.84C677.17 14.83 677.83 14.83 678.50 14.82C679.17 14.82 679.83 14.82 680.50 14.81C681.17 14.81 682.17 14.80 682.50 14.80" stroke="#ff0000" stroke-width="2.20"/>
<path d="M402.50 17.60C403.22 17.77 405.57 18.33 406.80 18.60C408.03 18.87 408.85 19.05 409.90 19.20C410.95 19.35 411.83 19.60 413.10 19.50C414.37 19.40 416.25 18.75 417.50 18.60C418.75 18.45 419.57 18.45 420.60 18.60C421.63 18.75 422.45 19.00 423.70 19.50C424.95 20.00 426.83 21.08 428.10 21.60C429.37 22.12 430.25 22.43 431.30 22.60C432.35 22.77 433.15 22.77 434.40 22.60C435.65 22.43 437.65 21.70 438.80 21.60C439.95 21.50 440.35 21.58 441.30 22.00C442.25 22.42 443.25 23.27 444.50 24.10C445.75 24.93 447.55 26.52 448.80 27.00C450.05 27.48 451.05 27.10 452.00 27.00C452.95 26.90 453.35 26.40 454.50 26.40C455.65 26.40 457.75 26.48 458.90 27.00C460.05 27.52 460.57 28.67 461.40 29.50C462.23 30.33 462.95 31.13 463.90 32.00C464.85 32.87 466.05 34.35 467.10 34.70C468.15 35.05 469.22 34.18 470.20 34.10C471.18 34.02 471.82 33.72 473.00 34.20C474.18 34.68 476.13 36.20 477.30 37.00C478.47 37.80 479.15 38.52 480.00 39.00C480.85 39.48 481.25 40.17 482.40 39.90C483.55 39.63 485.62 37.82 486.90 37.40C488.18 36.98 489.15 37.15 490.10 37.40C491.05 37.65 491.55 38.28 492.60 38.90C493.65 39.52 495.25 40.57 496.40 41.10C497.55 41.63 498.57 41.95 499.50 42.10C500.43 42.25 500.75 42.02 502.00 42.00C503.25 41.98 505.75 41.68 507.00 42.00C508.25 42.32 508.77 43.20 509.50 43.90C510.23 44.60 510.45 45.27 511.40 46.20C512.35 47.13 514.15 48.83 515.20 49.50C516.25 50.17 516.87 49.92 517.70 50.20C518.53 50.48 519.15 50.32 520.20 51.20C521.25 52.08 522.87 54.03 524.00 55.50C525.13 56.97 525.98 58.52 527.00 60.00C528.02 61.48 529.12 62.83 530.10 64.40C531.08 65.97 532.05 67.72 532.90 69.40C533.75 71.08 534.62 72.82 535.20 74.50C535.78 76.18 535.98 77.83 536.40 79.50C536.82 81.17 537.32 82.62 537.70 84.50C538.08 86.38 538.33 88.82 538.70 90.80C539.07 92.78 539.62 94.60 539.90 96.40C540.18 98.20 540.12 99.97 540.40 101.60C540.68 103.23 541.23 104.37 541.60 106.20C541.97 108.03 542.28 110.80 542.60 112.60C542.92 114.40 543.35 116.27 543.50 117.00C543.58 116.68 543.81 115.70 543.96 115.05C544.12 114.40 544.27 113.75 544.42 113.10C544.57 112.45 544.73 111.80 544.87 111.15C545.01 110.50 545.15 109.85 545.27 109.19C545.40 108.54 545.52 107.88 545.63 107.22C545.75 106.57 545.85 105.91 545.96 105.25C546.07 104.59 546.17 103.93 546.27 103.27C546.38 102.61 546.49 101.95 546.59 101.29C546.70 100.64 546.81 99.98 546.92 99.32C547.04 98.66 547.15 98.00 547.26 97.35C547.38 96.69 547.49 96.03 547.61 95.37C547.73 94.72 547.84 94.06 547.96 93.40C548.08 92.75 548.20 92.09 548.33 91.43C548.45 90.78 548.57 90.12 548.70 89.47C548.83 88.81 548.96 88.16 549.10 87.50C549.23 86.85 549.37 86.20 549.52 85.55C549.67 84.90 549.83 84.25 549.99 83.60C550.15 82.95 550.32 82.31 550.49 81.66C550.66 81.02 550.83 80.37 551.01 79.73C551.18 79.09 551.36 78.44 551.53 77.80C551.71 77.15 551.88 76.51 552.05 75.86C552.23 75.22 552.40 74.58 552.57 73.93C552.75 73.29 552.92 72.64 553.10 72.00C553.28 71.36 553.46 70.71 553.65 70.07C553.84 69.43 554.03 68.80 554.23 68.16C554.43 67.52 554.63 66.89 554.84 66.25C555.05 65.62 555.27 64.99 555.49 64.36C555.72 63.73 555.95 63.11 556.19 62.48C556.43 61.86 556.67 61.24 556.93 60.62C557.18 60.01 557.45 59.40 557.72 58.79C557.99 58.18 558.28 57.57 558.56 56.97C558.85 56.37 559.14 55.77 559.44 55.17C559.74 54.58 560.05 53.98 560.36 53.39C560.67 52.80 560.99 52.22 561.32 51.64C561.65 51.06 561.99 50.49 562.34 49.91C562.68 49.34 563.03 48.78 563.38 48.21C563.74 47.64 564.09 47.08 564.44 46.51C564.80 45.95 565.14 45.38 565.51 44.82C565.88 44.27 566.24 43.71 566.64 43.19C567.04 42.66 567.47 42.15 567.92 41.67C568.37 41.19 568.85 40.74 569.34 40.29C569.84 39.85 570.36 39.43 570.87 39.01C571.39 38.59 571.92 38.18 572.44 37.77C572.97 37.37 573.50 36.96 574.03 36.56C574.57 36.16 575.11 35.77 575.65 35.38C576.20 35.00 576.75 34.62 577.30 34.25C577.86 33.88 578.42 33.52 578.97 33.15C579.53 32.78 580.09 32.42 580.64 32.05C581.20 31.68 581.75 31.30 582.31 30.94C582.87 30.58 583.42 30.21 584.00 29.87C584.57 29.54 585.19 29.20 585.74 28.92C586.30 28.64 586.76 28.44 587.33 28.20C587.90 27.95 588.56 27.70 589.18 27.45C589.80 27.20 590.42 26.96 591.04 26.72C591.66 26.47 592.28 26.22 592.90 25.98C593.52 25.74 594.14 25.50 594.77 25.27C595.40 25.05 596.03 24.84 596.67 24.64C597.30 24.45 597.95 24.27 598.59 24.09C599.23 23.91 599.88 23.75 600.52 23.57C601.16 23.40 601.81 23.22 602.45 23.05C603.10 22.88 603.74 22.70 604.39 22.54C605.03 22.38 605.68 22.22 606.33 22.08C606.99 21.94 607.64 21.82 608.30 21.71C608.95 21.60 609.62 21.51 610.28 21.44C610.94 21.36 611.60 21.31 612.27 21.26C612.93 21.21 613.60 21.18 614.27 21.17C614.93 21.15 615.60 21.15 616.26 21.16C616.93 21.17 617.60 21.19 618.26 21.24C618.93 21.28 619.59 21.34 620.25 21.41C620.91 21.49 621.57 21.58 622.23 21.69C622.89 21.79 623.54 21.92 624.19 22.06C624.85 22.20 625.49 22.36 626.14 22.52C626.78 22.69 627.42 22.88 628.06 23.08C628.70 23.27 629.33 23.48 629.97 23.68C630.60 23.89 631.23 24.10 631.87 24.30C632.50 24.50 633.14 24.70 633.78 24.90C634.42 25.09 635.06 25.28 635.69 25.48C636.33 25.68 636.96 25.88 637.59 26.10C638.22 26.32 638.84 26.56 639.47 26.79C640.09 27.03 640.71 27.28 641.33 27.50C641.96 27.73 642.59 27.95 643.22 28.15C643.86 28.35 644.50 28.52 645.14 28.69C645.78 28.87 646.43 29.02 647.08 29.19C647.72 29.36 648.36 29.53 649.00 29.73C649.64 29.93 650.27 30.14 650.89 30.37C651.51 30.60 652.13 30.86 652.74 31.13C653.34 31.40 653.94 31.70 654.53 32.00C655.13 32.30 655.71 32.62 656.30 32.94C656.88 33.26 657.46 33.58 658.05 33.89C658.64 34.21 659.23 34.52 659.83 34.82C660.42 35.12 661.02 35.42 661.62 35.71C662.22 36.00 662.82 36.28 663.43 36.57C664.03 36.85 664.64 37.13 665.25 37.41C665.85 37.69 666.46 37.97 667.06 38.25C667.66 38.54 668.26 38.83 668.86 39.13C669.45 39.43 670.04 39.74 670.63 40.06C671.22 40.38 671.80 40.70 672.38 41.03C672.96 41.37 673.53 41.71 674.10 42.05C674.67 42.40 675.24 42.76 675.80 43.11C676.36 43.47 676.92 43.83 677.48 44.20C678.04 44.56 678.60 44.93 679.16 45.29C679.72 45.66 680.27 46.03 680.83 46.40C681.39 46.76 682.22 47.32 682.50 47.50" stroke="#0000ff" stroke-width="1.90" stroke-dasharray="5.833 5.070"/>
</g>
<g class="t" font-size="9.02">
<text x="402.75" y="163.00" text-anchor="middle">4</text><text x="437.75" y="163.00" text-anchor="middle">4.5</text><text x="472.75" y="163.00" text-anchor="middle">5</text><text x="507.75" y="163.00" text-anchor="middle">5.5</text><text x="542.75" y="163.00" text-anchor="middle">6</text><text x="577.75" y="163.00" text-anchor="middle">6.5</text><text x="612.75" y="163.00" text-anchor="middle">7</text><text x="647.75" y="163.00" text-anchor="middle">7.5</text><text x="682.75" y="163.00" text-anchor="middle">8</text>
<text x="398.10" y="11.85" text-anchor="end">0</text><text x="398.10" y="35.52" text-anchor="end">-5</text><text x="398.10" y="59.18" text-anchor="end">-10</text><text x="398.10" y="82.85" text-anchor="end">-15</text><text x="398.10" y="106.52" text-anchor="end">-20</text><text x="398.10" y="130.18" text-anchor="end">-25</text><text x="398.10" y="153.85" text-anchor="end">-30</text>
</g>
<text class="t" font-size="10.29" x="542.80" y="176.30" text-anchor="middle">Frequency [Ghz]</text>
<text class="t" font-size="10.29" text-anchor="middle" transform="translate(379.80 79.20) rotate(-90)">S11 dB</text>
<rect x="580.00" y="64.00" width="65.50" height="26.00" fill="#fff"/>
<rect x="580.00" y="64.00" width="1.00" height="26.00" fill="#808080"/><rect x="580.00" y="64.00" width="65.80" height="1.00" fill="#606060"/><rect x="644.30" y="64.00" width="1.25" height="26.00" fill="#999999"/><rect x="580.00" y="88.70" width="65.80" height="1.30" fill="#707070"/>
<path d="M583.60 71.60H604.30" stroke="#ff0000" stroke-width="2.00" fill="none"/>
<path d="M583.60 83.10H588.85M594.40 83.10H599.90" stroke="#0000ff" stroke-width="1.90" fill="none"/>
<text class="t lg" style="fill:#1a1a1a" font-size="8.27" x="605.70" y="75.10">Simulated</text>
<text class="t lg" style="fill:#1a1a1a" font-size="8.27" x="605.70" y="86.30">Measured</text>
<text class="cap" font-size="19.80" x="513.20" y="198.20" text-anchor="middle">(b)</text>
</g>
<g id="plot-c">
<clipPath id="clip-c"><rect x="32" y="217" width="283" height="143"/></clipPath>
<g shape-rendering="crispEdges">
<rect x="32" y="217" width="283" height="1" fill="#909090"/><rect x="32" y="359" width="283" height="1" fill="#686868"/><rect x="32" y="217" width="1" height="143" fill="#707070"/><rect x="314" y="217" width="1" height="143" fill="#707070"/>
</g>
<g shape-rendering="crispEdges">
<rect x="67" y="357" width="1" height="2" fill="#8a8a8a"/><rect x="67" y="218" width="1" height="2" fill="#a0a0a0"/><rect x="103" y="357" width="1" height="2" fill="#8a8a8a"/><rect x="103" y="218" width="1" height="2" fill="#a0a0a0"/><rect x="138" y="357" width="1" height="2" fill="#8a8a8a"/><rect x="138" y="218" width="1" height="2" fill="#a0a0a0"/><rect x="173" y="357" width="1" height="2" fill="#8a8a8a"/><rect x="173" y="218" width="1" height="2" fill="#a0a0a0"/><rect x="208" y="357" width="1" height="2" fill="#8a8a8a"/><rect x="208" y="218" width="1" height="2" fill="#a0a0a0"/><rect x="244" y="357" width="1" height="2" fill="#8a8a8a"/><rect x="244" y="218" width="1" height="2" fill="#a0a0a0"/><rect x="279" y="357" width="1" height="2" fill="#8a8a8a"/><rect x="279" y="218" width="1" height="2" fill="#a0a0a0"/>
<rect x="33" y="241" width="2" height="1" fill="#929292"/><rect x="312" y="241" width="2" height="1" fill="#929292"/><rect x="33" y="264" width="2" height="1" fill="#929292"/><rect x="312" y="264" width="2" height="1" fill="#929292"/><rect x="33" y="288" width="2" height="1" fill="#929292"/><rect x="312" y="288" width="2" height="1" fill="#929292"/><rect x="33" y="312" width="2" height="1" fill="#929292"/><rect x="312" y="312" width="2" height="1" fill="#929292"/><rect x="33" y="335" width="2" height="1" fill="#929292"/><rect x="312" y="335" width="2" height="1" fill="#929292"/>
</g>
<g clip-path="url(#clip-c)" fill="none" stroke-linejoin="round">
<path d="M32.60 222.20C32.93 222.21 33.93 222.24 34.60 222.27C35.27 222.29 35.93 222.31 36.60 222.33C37.27 222.35 37.94 222.37 38.60 222.40C39.27 222.42 39.94 222.44 40.60 222.46C41.27 222.49 41.94 222.51 42.60 222.54C43.27 222.56 43.94 222.58 44.60 222.61C45.27 222.64 45.94 222.67 46.60 222.69C47.27 222.72 47.94 222.75 48.60 222.78C49.27 222.81 49.94 222.85 50.60 222.88C51.27 222.91 51.94 222.95 52.60 222.98C53.27 223.02 53.94 223.05 54.60 223.09C55.27 223.13 55.93 223.17 56.60 223.21C57.27 223.25 57.97 223.30 58.60 223.35C59.22 223.39 59.72 223.43 60.34 223.48C60.97 223.53 61.67 223.58 62.34 223.64C63.00 223.70 63.67 223.76 64.33 223.83C65.00 223.89 65.66 223.96 66.32 224.03C66.99 224.11 67.65 224.19 68.31 224.27C68.97 224.35 69.63 224.44 70.30 224.53C70.96 224.62 71.62 224.72 72.28 224.82C72.94 224.92 73.59 225.03 74.25 225.14C74.91 225.26 75.57 225.37 76.22 225.50C76.87 225.63 77.53 225.77 78.18 225.92C78.83 226.07 79.47 226.23 80.12 226.41C80.76 226.59 81.40 226.79 82.03 226.99C82.67 227.19 83.30 227.40 83.93 227.61C84.57 227.83 85.20 228.04 85.83 228.27C86.46 228.49 87.08 228.71 87.71 228.94C88.34 229.17 88.96 229.41 89.59 229.64C90.21 229.88 90.83 230.12 91.46 230.36C92.08 230.60 92.70 230.84 93.32 231.09C93.94 231.33 94.56 231.58 95.18 231.83C95.80 232.08 96.42 232.33 97.04 232.58C97.65 232.83 98.27 233.08 98.89 233.34C99.50 233.59 100.12 233.86 100.73 234.12C101.34 234.38 101.95 234.66 102.58 234.88C103.20 235.11 103.83 235.32 104.48 235.46C105.12 235.61 105.78 235.70 106.44 235.77C107.10 235.84 107.77 235.84 108.44 235.86C109.10 235.89 109.81 235.87 110.42 235.94C111.04 236.00 111.53 236.07 112.11 236.26C112.69 236.46 113.33 236.75 113.88 237.09C114.43 237.44 114.94 237.88 115.42 238.33C115.90 238.78 116.34 239.29 116.77 239.80C117.19 240.31 117.58 240.85 117.96 241.40C118.34 241.95 118.68 242.52 119.03 243.09C119.38 243.65 119.71 244.23 120.06 244.81C120.40 245.38 120.75 245.95 121.10 246.51C121.46 247.08 121.83 247.63 122.18 248.20C122.54 248.76 122.91 249.32 123.26 249.89C123.61 250.45 123.95 251.03 124.28 251.60C124.62 252.18 124.94 252.77 125.26 253.35C125.59 253.93 125.90 254.52 126.23 255.10C126.55 255.69 126.88 256.27 127.21 256.85C127.54 257.43 127.88 258.00 128.23 258.57C128.57 259.14 128.92 259.71 129.29 260.26C129.67 260.81 130.05 261.36 130.47 261.87C130.89 262.39 131.35 262.88 131.81 263.35C132.28 263.82 132.78 264.27 133.28 264.70C133.79 265.14 134.31 265.56 134.84 265.96C135.37 266.37 135.91 266.75 136.46 267.13C137.01 267.51 137.57 267.87 138.13 268.23C138.69 268.59 139.26 268.94 139.82 269.30C140.39 269.66 140.95 270.02 141.50 270.39C142.06 270.76 142.61 271.13 143.16 271.51C143.71 271.90 144.25 272.28 144.78 272.69C145.31 273.10 145.83 273.51 146.33 273.95C146.83 274.39 147.34 274.88 147.77 275.33C148.21 275.77 148.54 276.15 148.93 276.64C149.32 277.12 149.74 277.70 150.12 278.24C150.51 278.78 150.87 279.34 151.23 279.91C151.59 280.47 151.94 281.03 152.29 281.60C152.64 282.17 152.98 282.75 153.32 283.32C153.66 283.90 153.99 284.48 154.32 285.06C154.64 285.64 154.96 286.22 155.27 286.81C155.59 287.40 155.89 288.00 156.18 288.60C156.47 289.20 156.76 289.80 157.03 290.41C157.30 291.02 157.56 291.63 157.82 292.25C158.08 292.86 158.32 293.48 158.57 294.10C158.82 294.73 159.06 295.35 159.29 295.97C159.53 296.59 159.77 297.22 160.00 297.84C160.23 298.47 160.46 299.10 160.69 299.72C160.92 300.35 161.14 300.98 161.36 301.61C161.58 302.24 161.79 302.87 162.00 303.51C162.21 304.14 162.42 304.77 162.62 305.41C162.81 306.05 163.01 306.69 163.19 307.33C163.38 307.97 163.56 308.61 163.73 309.26C163.90 309.90 164.06 310.55 164.22 311.20C164.38 311.84 164.53 312.49 164.68 313.14C164.83 313.79 164.98 314.45 165.12 315.10C165.26 315.75 165.40 316.40 165.54 317.05C165.68 317.71 165.81 318.36 165.94 319.02C166.08 319.67 166.21 320.32 166.33 320.98C166.46 321.63 166.59 322.29 166.71 322.94C166.84 323.60 166.97 324.30 167.08 324.91C167.19 325.53 167.28 326.02 167.40 326.64C167.51 327.25 167.63 327.95 167.75 328.61C167.87 329.26 167.99 329.92 168.10 330.58C168.22 331.23 168.34 331.89 168.45 332.55C168.57 333.20 168.68 333.86 168.80 334.52C168.91 335.18 169.02 335.83 169.14 336.49C169.25 337.15 169.36 337.81 169.47 338.47C169.57 339.13 169.68 339.78 169.79 340.44C169.90 341.10 170.00 341.76 170.11 342.42C170.22 343.08 170.33 343.73 170.45 344.39C170.56 345.05 170.68 345.71 170.81 346.36C170.94 347.01 171.08 347.67 171.22 348.32C171.37 348.97 171.58 349.62 171.70 350.26C171.81 350.91 171.87 351.88 171.90 352.20L172.50 352.20C172.51 351.87 172.49 350.89 172.56 350.23C172.63 349.58 172.80 348.92 172.92 348.26C173.04 347.61 173.16 346.95 173.27 346.30C173.39 345.64 173.50 344.98 173.61 344.32C173.71 343.67 173.82 343.01 173.92 342.35C174.03 341.69 174.13 341.03 174.23 340.37C174.33 339.71 174.42 339.05 174.52 338.39C174.62 337.73 174.72 337.07 174.82 336.41C174.92 335.75 175.02 335.10 175.13 334.44C175.23 333.78 175.34 333.12 175.45 332.46C175.56 331.81 175.67 331.15 175.79 330.49C175.91 329.84 176.03 329.18 176.15 328.52C176.27 327.87 176.39 327.21 176.51 326.56C176.64 325.90 176.76 325.25 176.88 324.59C177.00 323.94 177.13 323.28 177.24 322.62C177.36 321.97 177.48 321.31 177.60 320.65C177.71 320.00 177.82 319.34 177.94 318.68C178.05 318.03 178.16 317.37 178.27 316.71C178.38 316.05 178.49 315.40 178.60 314.74C178.71 314.08 178.82 313.42 178.93 312.77C179.05 312.11 179.16 311.45 179.28 310.79C179.39 310.14 179.51 309.48 179.63 308.83C179.75 308.17 179.87 307.51 180.00 306.86C180.12 306.20 180.25 305.55 180.38 304.90C180.51 304.24 180.65 303.59 180.78 302.94C180.92 302.28 181.06 301.63 181.21 300.98C181.35 300.33 181.50 299.68 181.65 299.03C181.81 298.38 181.95 297.78 182.12 297.09C182.29 296.40 182.50 295.59 182.67 294.91C182.85 294.22 183.01 293.62 183.19 292.97C183.37 292.33 183.55 291.69 183.73 291.05C183.91 290.41 184.10 289.77 184.29 289.13C184.49 288.49 184.68 287.85 184.88 287.22C185.08 286.58 185.28 285.95 185.49 285.31C185.69 284.68 185.90 284.04 186.11 283.41C186.32 282.78 186.53 282.15 186.75 281.51C186.96 280.88 187.18 280.25 187.40 279.62C187.63 279.00 187.85 278.37 188.08 277.74C188.32 277.12 188.55 276.49 188.79 275.87C189.04 275.25 189.29 274.64 189.54 274.02C189.80 273.41 190.06 272.79 190.33 272.18C190.60 271.57 190.87 270.97 191.15 270.36C191.43 269.75 191.71 269.15 192.00 268.55C192.29 267.95 192.58 267.35 192.88 266.76C193.19 266.16 193.49 265.57 193.81 264.99C194.13 264.41 194.47 263.83 194.81 263.26C195.15 262.69 195.50 262.12 195.86 261.56C196.21 261.00 196.58 260.44 196.93 259.88C197.29 259.31 197.65 258.75 198.00 258.19C198.36 257.62 198.71 257.06 199.06 256.49C199.42 255.93 199.77 255.36 200.13 254.80C200.50 254.25 200.86 253.69 201.24 253.14C201.62 252.59 202.00 252.05 202.40 251.51C202.79 250.97 203.19 250.44 203.60 249.92C204.02 249.40 204.44 248.88 204.86 248.37C205.29 247.86 205.73 247.36 206.17 246.86C206.62 246.36 207.07 245.88 207.53 245.40C208.00 244.92 208.47 244.45 208.95 243.99C209.43 243.53 209.92 243.08 210.42 242.63C210.91 242.19 211.42 241.76 211.93 241.34C212.45 240.91 212.97 240.50 213.50 240.09C214.02 239.68 214.56 239.29 215.10 238.90C215.64 238.51 216.19 238.13 216.74 237.76C217.30 237.40 217.86 237.04 218.43 236.70C219.00 236.35 219.58 236.02 220.16 235.69C220.74 235.37 221.33 235.06 221.92 234.75C222.51 234.44 223.10 234.14 223.70 233.85C224.30 233.55 224.90 233.26 225.50 232.98C226.11 232.69 226.71 232.41 227.32 232.14C227.93 231.86 228.54 231.60 229.15 231.34C229.76 231.08 230.38 230.83 231.01 230.60C231.63 230.37 232.26 230.15 232.89 229.94C233.52 229.73 234.16 229.53 234.80 229.34C235.43 229.16 236.08 228.98 236.72 228.81C237.37 228.64 238.01 228.48 238.66 228.32C239.31 228.16 239.96 228.01 240.61 227.87C241.26 227.72 241.91 227.58 242.56 227.45C243.22 227.32 243.87 227.20 244.53 227.09C245.19 226.98 245.84 226.88 246.50 226.78C247.16 226.69 247.82 226.61 248.49 226.53C249.15 226.45 249.81 226.38 250.47 226.32C251.14 226.26 251.80 226.20 252.47 226.15C253.13 226.09 253.80 226.05 254.46 226.00C255.13 225.95 255.75 225.91 256.46 225.87C257.17 225.82 258.00 225.78 258.70 225.74C259.41 225.70 260.04 225.67 260.70 225.63C261.37 225.60 262.03 225.57 262.70 225.55C263.37 225.52 264.03 225.49 264.70 225.47C265.37 225.44 266.03 225.42 266.70 225.40C267.37 225.38 268.03 225.36 268.70 225.34C269.37 225.32 270.03 225.30 270.70 225.28C271.36 225.26 272.03 225.25 272.70 225.23C273.36 225.21 274.03 225.19 274.70 225.17C275.36 225.16 276.03 225.14 276.70 225.12C277.36 225.10 278.03 225.09 278.70 225.07C279.36 225.05 280.03 225.04 280.70 225.02C281.36 225.01 282.03 224.99 282.70 224.98C283.36 224.96 284.03 224.95 284.70 224.93C285.36 224.92 286.03 224.91 286.70 224.89C287.36 224.88 288.03 224.87 288.70 224.86C289.36 224.85 290.03 224.84 290.70 224.83C291.36 224.81 292.03 224.80 292.70 224.79C293.36 224.78 294.03 224.77 294.70 224.76C295.37 224.75 296.03 224.74 296.70 224.73C297.37 224.72 298.03 224.71 298.70 224.70C299.37 224.69 300.03 224.68 300.70 224.66C301.37 224.65 302.03 224.64 302.70 224.63C303.37 224.62 304.03 224.60 304.70 224.59C305.37 224.58 306.03 224.57 306.70 224.55C307.37 224.54 308.03 224.53 308.70 224.52C309.37 224.50 310.03 224.49 310.70 224.48C311.37 224.46 312.03 224.45 312.70 224.44C313.37 224.43 314.37 224.41 314.70 224.40" stroke="#ff0000" stroke-width="2.20"/>
<path d="M32.60 228.50C32.93 228.48 33.93 228.41 34.60 228.39C35.26 228.36 35.93 228.33 36.60 228.33C37.26 228.33 37.93 228.35 38.60 228.38C39.26 228.41 39.93 228.46 40.59 228.52C41.26 228.57 41.92 228.63 42.58 228.70C43.25 228.76 43.91 228.83 44.57 228.91C45.24 228.98 45.90 229.07 46.56 229.14C47.22 229.22 47.89 229.30 48.55 229.37C49.21 229.43 49.88 229.49 50.54 229.55C51.21 229.60 51.87 229.65 52.54 229.70C53.20 229.76 53.87 229.81 54.53 229.87C55.20 229.93 55.86 230.00 56.52 230.07C57.18 230.15 57.85 230.23 58.51 230.31C59.17 230.39 59.83 230.48 60.50 230.56C61.16 230.64 61.82 230.71 62.48 230.80C63.14 230.88 63.81 230.96 64.47 231.04C65.13 231.13 65.75 231.22 66.45 231.32C67.15 231.42 67.97 231.55 68.67 231.66C69.37 231.78 69.99 231.88 70.65 231.99C71.31 232.10 71.96 232.21 72.62 232.33C73.28 232.44 73.94 232.56 74.59 232.68C75.25 232.81 75.90 232.93 76.55 233.07C77.20 233.22 77.85 233.37 78.50 233.53C79.15 233.69 79.79 233.86 80.44 234.03C81.08 234.20 81.73 234.38 82.37 234.55C83.01 234.73 83.66 234.91 84.30 235.09C84.94 235.27 85.58 235.46 86.22 235.66C86.85 235.85 87.49 236.05 88.12 236.26C88.76 236.47 89.39 236.69 90.02 236.91C90.65 237.13 91.27 237.36 91.90 237.60C92.52 237.84 93.14 238.08 93.76 238.33C94.38 238.57 95.00 238.82 95.61 239.08C96.23 239.34 96.84 239.60 97.45 239.87C98.06 240.14 98.67 240.42 99.27 240.70C99.88 240.98 100.48 241.26 101.08 241.55C101.69 241.84 102.29 242.13 102.89 242.42C103.49 242.71 104.09 243.00 104.69 243.29C105.29 243.57 105.90 243.86 106.51 244.13C107.11 244.40 107.73 244.67 108.34 244.93C108.95 245.19 109.57 245.45 110.19 245.70C110.80 245.96 111.42 246.21 112.04 246.46C112.65 246.71 113.27 246.97 113.89 247.21C114.51 247.46 115.13 247.71 115.75 247.95C116.38 248.18 117.01 248.40 117.64 248.62C118.27 248.84 118.91 249.02 119.54 249.24C120.17 249.46 120.81 249.66 121.40 249.94C122.00 250.22 122.58 250.54 123.11 250.92C123.65 251.30 124.12 251.77 124.61 252.21C125.11 252.66 125.56 253.15 126.06 253.58C126.57 254.01 127.10 254.40 127.65 254.78C128.19 255.16 128.74 255.47 129.33 255.85C129.92 256.24 130.62 256.70 131.21 257.10C131.79 257.49 132.29 257.87 132.84 258.25C133.39 258.63 133.94 259.01 134.50 259.37C135.06 259.74 135.62 260.09 136.19 260.44C136.76 260.78 137.34 261.12 137.92 261.44C138.50 261.76 139.09 262.07 139.69 262.38C140.28 262.68 140.88 262.97 141.49 263.25C142.10 263.52 142.71 263.80 143.33 264.02C143.95 264.24 144.59 264.45 145.23 264.58C145.88 264.72 146.54 264.77 147.20 264.82C147.86 264.87 148.53 264.85 149.19 264.90C149.86 264.94 150.52 264.99 151.18 265.09C151.84 265.18 152.50 265.31 153.13 265.48C153.77 265.64 154.41 265.84 155.02 266.11C155.62 266.37 156.20 266.69 156.75 267.06C157.30 267.42 157.81 267.85 158.29 268.31C158.77 268.76 159.21 269.26 159.62 269.79C160.02 270.31 160.38 270.87 160.73 271.44C161.07 272.00 161.38 272.60 161.69 273.19C161.99 273.78 162.29 274.38 162.57 274.99C162.85 275.59 163.13 276.19 163.39 276.81C163.65 277.42 163.90 278.04 164.13 278.67C164.36 279.29 164.57 279.93 164.76 280.56C164.95 281.20 165.11 281.85 165.28 282.49C165.45 283.14 165.61 283.79 165.78 284.43C165.95 285.08 166.13 285.72 166.30 286.36C166.47 287.01 166.66 287.65 166.82 288.30C166.98 288.94 167.14 289.59 167.26 290.25C167.38 290.90 167.47 291.56 167.56 292.22C167.65 292.88 167.71 293.55 167.80 294.21C167.89 294.87 167.98 295.53 168.09 296.18C168.20 296.84 168.34 297.49 168.48 298.15C168.61 298.80 168.77 299.45 168.90 300.10C169.03 300.76 169.15 301.41 169.26 302.07C169.37 302.73 169.45 303.35 169.54 304.05C169.63 304.75 169.72 305.58 169.80 306.29C169.88 306.99 169.96 307.61 170.04 308.27C170.12 308.93 170.21 309.60 170.29 310.26C170.37 310.92 170.44 311.58 170.50 312.25C170.56 312.91 170.60 313.58 170.65 314.24C170.70 314.91 170.74 315.57 170.81 316.24C170.87 316.90 170.95 317.56 171.04 318.22C171.13 318.88 171.26 319.54 171.37 320.20C171.48 320.85 171.60 321.51 171.70 322.17C171.80 322.83 171.88 323.49 171.96 324.15C172.04 324.81 172.10 325.48 172.18 326.14C172.25 326.80 172.33 327.46 172.43 328.12C172.54 328.78 172.67 329.43 172.80 330.09C172.92 330.74 173.06 331.40 173.17 332.05C173.28 332.71 173.38 333.37 173.47 334.03C173.55 334.69 173.62 335.36 173.69 336.02C173.77 336.68 173.83 337.35 173.90 338.01C173.97 338.67 174.07 339.67 174.10 340.00C174.16 339.67 174.34 338.69 174.46 338.03C174.57 337.37 174.68 336.72 174.77 336.06C174.87 335.40 174.95 334.73 175.04 334.07C175.13 333.41 175.20 332.75 175.30 332.09C175.39 331.43 175.49 330.77 175.60 330.12C175.71 329.46 175.85 328.81 175.97 328.15C176.09 327.50 176.21 326.84 176.32 326.19C176.43 325.53 176.53 324.87 176.62 324.21C176.70 323.55 176.77 322.88 176.84 322.22C176.91 321.56 176.98 320.89 177.04 320.23C177.11 319.57 177.18 318.90 177.25 318.24C177.32 317.58 177.40 316.91 177.47 316.25C177.54 315.59 177.61 314.92 177.68 314.26C177.75 313.59 177.81 312.93 177.87 312.27C177.94 311.60 178.00 310.94 178.07 310.28C178.14 309.61 178.22 308.95 178.31 308.29C178.40 307.63 178.50 306.97 178.60 306.31C178.70 305.65 178.80 304.95 178.89 304.33C178.98 303.71 179.04 303.22 179.11 302.60C179.19 301.98 179.26 301.27 179.33 300.61C179.41 299.95 179.48 299.28 179.57 298.62C179.66 297.96 179.76 297.30 179.86 296.65C179.97 295.99 180.09 295.33 180.21 294.68C180.33 294.02 180.45 293.36 180.57 292.71C180.69 292.05 180.80 291.39 180.91 290.74C181.03 290.08 181.13 289.42 181.25 288.76C181.37 288.11 181.49 287.45 181.62 286.80C181.76 286.14 181.90 285.49 182.04 284.84C182.19 284.19 182.34 283.54 182.49 282.89C182.65 282.24 182.80 281.59 182.95 280.94C183.10 280.29 183.25 279.64 183.40 278.99C183.56 278.34 183.71 277.69 183.88 277.05C184.04 276.40 184.22 275.76 184.40 275.12C184.57 274.47 184.76 273.83 184.96 273.20C185.15 272.56 185.36 271.92 185.57 271.29C185.78 270.66 185.99 270.02 186.21 269.39C186.43 268.76 186.65 268.13 186.87 267.50C187.10 266.88 187.32 266.25 187.55 265.62C187.78 265.00 188.01 264.37 188.26 263.75C188.50 263.13 188.75 262.51 189.03 261.91C189.30 261.30 189.60 260.71 189.91 260.12C190.22 259.54 190.56 258.96 190.91 258.40C191.27 257.83 191.64 257.28 192.02 256.73C192.40 256.19 192.80 255.65 193.20 255.12C193.60 254.59 194.01 254.07 194.42 253.54C194.83 253.01 195.25 252.49 195.66 251.97C196.07 251.44 196.47 250.91 196.88 250.38C197.30 249.86 197.70 249.33 198.12 248.82C198.55 248.31 198.98 247.80 199.44 247.32C199.90 246.85 200.38 246.39 200.88 245.96C201.38 245.52 201.90 245.12 202.44 244.73C202.98 244.33 203.53 243.97 204.09 243.61C204.65 243.25 205.22 242.90 205.79 242.56C206.37 242.21 206.94 241.88 207.52 241.55C208.10 241.21 208.71 240.86 209.26 240.55C209.80 240.24 210.24 239.99 210.78 239.69C211.33 239.38 211.95 239.04 212.54 238.73C213.13 238.41 213.72 238.10 214.31 237.80C214.90 237.49 215.50 237.19 216.10 236.90C216.70 236.60 217.30 236.31 217.90 236.02C218.50 235.73 219.10 235.45 219.71 235.17C220.31 234.89 220.92 234.61 221.53 234.35C222.15 234.08 222.76 233.82 223.38 233.57C224.00 233.32 224.62 233.08 225.24 232.85C225.87 232.61 226.50 232.39 227.13 232.17C227.76 231.95 228.39 231.74 229.03 231.54C229.66 231.34 230.30 231.15 230.94 230.98C231.59 230.81 232.23 230.65 232.89 230.51C233.54 230.38 234.19 230.26 234.85 230.16C235.51 230.06 236.17 229.98 236.83 229.92C237.50 229.85 238.16 229.81 238.83 229.77C239.49 229.73 240.16 229.71 240.82 229.70C241.49 229.69 242.16 229.69 242.82 229.70C243.49 229.72 244.16 229.74 244.82 229.77C245.49 229.80 246.16 229.84 246.82 229.89C247.49 229.93 248.15 229.99 248.82 230.05C249.48 230.11 250.14 230.18 250.81 230.26C251.47 230.34 252.13 230.43 252.79 230.53C253.45 230.63 254.11 230.74 254.76 230.86C255.42 230.98 256.07 231.11 256.72 231.25C257.38 231.39 258.03 231.53 258.68 231.69C259.32 231.85 259.97 232.01 260.61 232.19C261.26 232.36 261.90 232.54 262.54 232.72C263.18 232.90 263.83 233.08 264.47 233.25C265.12 233.42 265.76 233.58 266.41 233.73C267.06 233.88 267.71 234.01 268.37 234.15C269.02 234.30 269.67 234.43 270.32 234.57C270.97 234.72 271.62 234.88 272.27 235.04C272.92 235.19 273.56 235.37 274.21 235.53C274.85 235.69 275.50 235.86 276.15 236.01C276.80 236.17 277.45 236.31 278.10 236.46C278.75 236.60 279.44 236.74 280.05 236.87C280.67 237.00 281.16 237.11 281.76 237.25C282.37 237.40 283.06 237.56 283.70 237.74C284.35 237.91 284.99 238.09 285.63 238.28C286.27 238.47 286.90 238.67 287.54 238.88C288.17 239.09 288.80 239.30 289.43 239.52C290.06 239.75 290.69 239.97 291.32 240.20C291.94 240.44 292.56 240.67 293.19 240.91C293.81 241.15 294.43 241.39 295.06 241.63C295.68 241.87 296.30 242.11 296.92 242.35C297.54 242.59 298.17 242.83 298.79 243.07C299.41 243.32 300.03 243.55 300.65 243.81C301.26 244.07 301.88 244.33 302.48 244.61C303.08 244.90 303.67 245.20 304.26 245.51C304.85 245.83 305.43 246.16 306.00 246.50C306.58 246.83 307.15 247.18 307.72 247.53C308.29 247.87 308.85 248.23 309.42 248.57C309.99 248.92 310.56 249.26 311.14 249.59C311.72 249.92 312.31 250.23 312.90 250.53C313.50 250.83 314.40 251.26 314.70 251.40" stroke="#0000ff" stroke-width="1.90" stroke-dasharray="5.875 5.106"/>
</g>
<g class="t" font-size="9.02">
<text x="32.45" y="373.20" text-anchor="middle">4</text><text x="67.70" y="373.20" text-anchor="middle">4.5</text><text x="102.95" y="373.20" text-anchor="middle">5</text><text x="138.20" y="373.20" text-anchor="middle">5.5</text><text x="173.45" y="373.20" text-anchor="middle">6</text><text x="208.70" y="373.20" text-anchor="middle">6.5</text><text x="243.95" y="373.20" text-anchor="middle">7</text><text x="279.20" y="373.20" text-anchor="middle">7.5</text><text x="314.45" y="373.20" text-anchor="middle">8</text>
<text x="28.70" y="221.60" text-anchor="end">0</text><text x="28.70" y="245.27" text-anchor="end">-5</text><text x="28.70" y="268.93" text-anchor="end">-10</text><text x="28.70" y="292.60" text-anchor="end">-15</text><text x="28.70" y="316.27" text-anchor="end">-20</text><text x="28.70" y="339.93" text-anchor="end">-25</text><text x="28.70" y="363.60" text-anchor="end">-30</text>
</g>
<text class="t" font-size="10.29" x="173.80" y="386.80" text-anchor="middle">Frequency [Ghz]</text>
<text class="t" font-size="10.29" text-anchor="middle" transform="translate(10.60 288.90) rotate(-90)">S11 dB</text>
<rect x="207.00" y="281.70" width="65.50" height="25.00" fill="#fff"/>
<rect x="207.00" y="281.40" width="1.00" height="25.45" fill="#606060"/><rect x="207.00" y="281.70" width="65.50" height="1.10" fill="#909090"/><rect x="271.30" y="281.70" width="1.20" height="25.00" fill="#a0a0a0"/><rect x="207.00" y="305.50" width="65.50" height="1.15" fill="#787878"/>
<path d="M210.00 288.95H230.90" stroke="#ff0000" stroke-width="2.00" fill="none"/>
<path d="M210.00 300.10H215.40M221.00 300.10H226.40" stroke="#0000ff" stroke-width="1.90" fill="none"/>
<text class="t lg" style="fill:#1a1a1a" font-size="8.30" x="232.40" y="291.90">Simulated</text>
<text class="t lg" style="fill:#1a1a1a" font-size="8.30" x="232.40" y="303.25">Measured</text>
<text class="cap" font-size="19.80" x="190.10" y="409.60" text-anchor="middle">(c)</text>
</g>
<g id="plot-d">
<clipPath id="clip-d"><rect x="397" y="217" width="282" height="143"/></clipPath>
<g shape-rendering="crispEdges">
<rect x="397" y="217" width="282" height="1" fill="#606060"/><rect x="397" y="359" width="282" height="1" fill="#707070"/><rect x="397" y="217" width="1" height="143" fill="#707070"/><rect x="678" y="217" width="1" height="143" fill="#909090"/>
</g>
<g shape-rendering="crispEdges">
<rect x="432" y="357" width="1" height="2" fill="#929292"/><rect x="432" y="218" width="1" height="2" fill="#707070"/><rect x="467" y="357" width="1" height="2" fill="#929292"/><rect x="467" y="218" width="1" height="2" fill="#707070"/><rect x="502" y="357" width="1" height="2" fill="#929292"/><rect x="502" y="218" width="1" height="2" fill="#707070"/><rect x="538" y="357" width="1" height="2" fill="#929292"/><rect x="538" y="218" width="1" height="2" fill="#707070"/><rect x="573" y="357" width="1" height="2" fill="#929292"/><rect x="573" y="218" width="1" height="2" fill="#707070"/><rect x="608" y="357" width="1" height="2" fill="#929292"/><rect x="608" y="218" width="1" height="2" fill="#707070"/><rect x="643" y="357" width="1" height="2" fill="#929292"/><rect x="643" y="218" width="1" height="2" fill="#707070"/>
<rect x="398" y="241" width="2" height="1" fill="#929292"/><rect x="676" y="241" width="2" height="1" fill="#b2b2b2"/><rect x="398" y="264" width="2" height="1" fill="#929292"/><rect x="676" y="264" width="2" height="1" fill="#b2b2b2"/><rect x="398" y="288" width="2" height="1" fill="#929292"/><rect x="676" y="288" width="2" height="1" fill="#b2b2b2"/><rect x="398" y="312" width="2" height="1" fill="#929292"/><rect x="676" y="312" width="2" height="1" fill="#b2b2b2"/><rect x="398" y="335" width="2" height="1" fill="#929292"/><rect x="676" y="335" width="2" height="1" fill="#b2b2b2"/>
</g>
<g clip-path="url(#clip-d)" fill="none" stroke-linejoin="round">
<path d="M397.60 222.20C397.93 222.21 398.93 222.23 399.60 222.25C400.27 222.27 400.94 222.28 401.60 222.30C402.27 222.32 402.94 222.33 403.60 222.35C404.27 222.37 404.94 222.38 405.61 222.40C406.27 222.42 406.94 222.44 407.61 222.46C408.28 222.48 408.94 222.50 409.61 222.52C410.28 222.55 410.94 222.57 411.61 222.60C412.28 222.62 412.94 222.65 413.61 222.68C414.28 222.71 414.94 222.74 415.61 222.77C416.28 222.81 416.94 222.84 417.61 222.87C418.28 222.91 418.94 222.95 419.61 222.99C420.28 223.03 420.94 223.07 421.61 223.11C422.27 223.15 422.94 223.20 423.61 223.25C424.27 223.30 424.94 223.35 425.60 223.40C426.27 223.45 426.93 223.51 427.60 223.57C428.26 223.63 428.93 223.70 429.59 223.77C430.25 223.83 430.92 223.90 431.58 223.98C432.24 224.05 432.91 224.13 433.57 224.21C434.23 224.29 434.89 224.37 435.55 224.46C436.22 224.55 436.88 224.65 437.53 224.76C438.19 224.86 438.85 224.98 439.51 225.09C440.17 225.20 440.83 225.32 441.48 225.44C442.14 225.55 442.80 225.67 443.45 225.80C444.10 225.94 444.75 226.09 445.39 226.26C446.04 226.44 446.67 226.65 447.30 226.86C447.93 227.08 448.59 227.34 449.18 227.56C449.76 227.78 450.23 227.97 450.81 228.20C451.39 228.43 452.05 228.69 452.67 228.93C453.29 229.18 453.91 229.43 454.53 229.68C455.15 229.93 455.76 230.19 456.38 230.45C456.99 230.71 457.60 230.98 458.21 231.25C458.82 231.52 459.43 231.80 460.03 232.08C460.64 232.36 461.24 232.64 461.85 232.92C462.46 233.20 463.06 233.48 463.67 233.76C464.28 234.03 464.89 234.30 465.50 234.57C466.12 234.83 466.73 235.10 467.35 235.33C467.98 235.56 468.61 235.78 469.25 235.95C469.89 236.12 470.54 236.25 471.20 236.35C471.86 236.44 472.52 236.47 473.18 236.54C473.84 236.61 474.51 236.63 475.15 236.77C475.80 236.91 476.44 237.09 477.03 237.36C477.62 237.63 478.18 237.99 478.70 238.39C479.21 238.80 479.67 239.29 480.11 239.78C480.55 240.27 480.94 240.82 481.34 241.35C481.74 241.89 482.12 242.44 482.49 242.99C482.87 243.54 483.24 244.10 483.59 244.66C483.95 245.22 484.30 245.79 484.64 246.36C484.99 246.94 485.32 247.52 485.64 248.10C485.97 248.68 486.28 249.27 486.60 249.86C486.92 250.44 487.23 251.03 487.55 251.62C487.88 252.20 488.21 252.78 488.55 253.35C488.89 253.93 489.24 254.49 489.60 255.06C489.96 255.62 490.32 256.18 490.69 256.73C491.06 257.29 491.44 257.84 491.82 258.39C492.20 258.94 492.59 259.48 492.99 260.02C493.38 260.55 493.79 261.08 494.21 261.60C494.63 262.12 495.06 262.63 495.51 263.12C495.96 263.61 496.43 264.09 496.93 264.52C497.42 264.96 497.95 265.36 498.50 265.74C499.05 266.11 499.64 266.43 500.22 266.76C500.80 267.08 501.40 267.38 501.99 267.69C502.58 267.99 503.18 268.28 503.78 268.59C504.37 268.89 504.97 269.19 505.55 269.51C506.14 269.83 506.72 270.16 507.28 270.52C507.84 270.88 508.39 271.26 508.92 271.66C509.44 272.07 509.95 272.51 510.43 272.96C510.92 273.41 511.39 273.89 511.83 274.38C512.28 274.88 512.70 275.40 513.10 275.92C513.51 276.45 513.89 277.00 514.26 277.56C514.63 278.11 514.99 278.67 515.34 279.24C515.69 279.81 516.04 280.38 516.38 280.95C516.72 281.53 517.06 282.10 517.39 282.68C517.72 283.26 518.05 283.84 518.37 284.43C518.69 285.01 519.00 285.60 519.31 286.19C519.62 286.78 519.93 287.38 520.22 287.98C520.52 288.57 520.81 289.17 521.10 289.78C521.38 290.38 521.66 290.99 521.93 291.60C522.20 292.21 522.46 292.82 522.71 293.44C522.97 294.06 523.22 294.68 523.46 295.30C523.71 295.92 523.96 296.58 524.18 297.17C524.40 297.75 524.57 298.22 524.78 298.81C525.00 299.40 525.24 300.07 525.46 300.70C525.68 301.32 525.90 301.96 526.12 302.59C526.33 303.22 526.55 303.85 526.76 304.48C526.97 305.11 527.18 305.75 527.39 306.38C527.59 307.02 527.80 307.65 527.99 308.29C528.19 308.93 528.38 309.57 528.57 310.21C528.75 310.85 528.94 311.49 529.12 312.14C529.30 312.78 529.48 313.42 529.65 314.07C529.82 314.71 529.99 315.36 530.16 316.00C530.32 316.65 530.48 317.30 530.63 317.95C530.78 318.60 530.93 319.25 531.07 319.90C531.21 320.55 531.34 321.21 531.47 321.86C531.60 322.52 531.72 323.17 531.84 323.83C531.96 324.49 532.08 325.14 532.20 325.80C532.31 326.46 532.43 327.11 532.54 327.77C532.66 328.43 532.77 329.09 532.89 329.74C533.01 330.40 533.12 331.06 533.24 331.72C533.36 332.37 533.48 333.03 533.60 333.68C533.72 334.34 533.85 335.00 533.97 335.65C534.09 336.31 534.22 336.96 534.34 337.62C534.47 338.28 534.59 338.93 534.72 339.59C534.84 340.24 534.97 340.90 535.10 341.55C535.23 342.21 535.35 342.86 535.49 343.52C535.62 344.17 535.75 344.83 535.88 345.48C536.02 346.13 536.20 346.79 536.29 347.44C536.38 348.09 536.38 349.07 536.40 349.40L537.00 349.40C537.00 349.07 536.94 348.08 536.99 347.42C537.04 346.76 537.19 346.10 537.29 345.44C537.39 344.78 537.49 344.12 537.59 343.46C537.69 342.80 537.79 342.14 537.90 341.48C538.00 340.83 538.11 340.17 538.21 339.51C538.32 338.85 538.43 338.19 538.54 337.53C538.65 336.88 538.76 336.22 538.87 335.56C538.98 334.90 539.09 334.24 539.20 333.59C539.31 332.93 539.43 332.27 539.54 331.61C539.66 330.96 539.77 330.30 539.89 329.64C540.00 328.99 540.12 328.33 540.24 327.67C540.36 327.02 540.48 326.36 540.60 325.70C540.72 325.05 540.84 324.39 540.97 323.74C541.09 323.08 541.22 322.43 541.35 321.77C541.47 321.12 541.61 320.46 541.74 319.81C541.87 319.16 542.01 318.50 542.15 317.85C542.29 317.20 542.43 316.55 542.58 315.90C542.72 315.25 542.87 314.59 543.01 313.94C543.16 313.29 543.31 312.64 543.46 311.99C543.61 311.34 543.75 310.69 543.90 310.04C544.05 309.39 544.19 308.74 544.34 308.09C544.48 307.44 544.63 306.79 544.77 306.13C544.90 305.48 545.04 304.83 545.17 304.17C545.30 303.52 545.42 302.86 545.53 302.21C545.65 301.55 545.76 300.89 545.86 300.23C545.97 299.58 546.06 298.92 546.17 298.26C546.27 297.60 546.36 296.94 546.47 296.28C546.58 295.62 546.69 294.92 546.81 294.31C546.92 293.69 547.01 293.20 547.14 292.59C547.27 291.98 547.42 291.29 547.58 290.64C547.73 289.99 547.89 289.35 548.06 288.70C548.23 288.06 548.41 287.41 548.60 286.77C548.78 286.13 548.97 285.49 549.17 284.86C549.37 284.22 549.57 283.58 549.78 282.95C549.99 282.32 550.21 281.69 550.43 281.06C550.65 280.43 550.88 279.80 551.12 279.18C551.35 278.56 551.59 277.93 551.83 277.31C552.08 276.69 552.33 276.07 552.59 275.46C552.84 274.84 553.11 274.23 553.37 273.62C553.64 273.01 553.92 272.40 554.20 271.80C554.48 271.19 554.76 270.59 555.05 269.99C555.34 269.39 555.63 268.79 555.93 268.19C556.22 267.59 556.52 266.99 556.82 266.40C557.12 265.80 557.43 265.21 557.74 264.62C558.04 264.03 558.35 263.44 558.67 262.85C558.99 262.26 559.31 261.68 559.64 261.10C559.97 260.52 560.30 259.94 560.65 259.38C561.00 258.81 561.36 258.25 561.73 257.70C562.10 257.14 562.49 256.60 562.88 256.06C563.27 255.53 563.68 255.00 564.09 254.48C564.50 253.95 564.93 253.44 565.35 252.92C565.78 252.41 566.21 251.90 566.64 251.39C567.07 250.89 567.51 250.38 567.95 249.88C568.39 249.38 568.84 248.89 569.29 248.39C569.74 247.90 570.19 247.41 570.65 246.92C571.10 246.44 571.57 245.96 572.04 245.49C572.50 245.01 572.98 244.54 573.46 244.09C573.95 243.64 574.44 243.19 574.95 242.76C575.45 242.33 575.97 241.91 576.50 241.51C577.02 241.10 577.56 240.71 578.10 240.32C578.64 239.93 579.19 239.55 579.73 239.16C580.28 238.78 580.82 238.39 581.36 238.01C581.91 237.63 582.45 237.24 583.00 236.87C583.56 236.49 584.11 236.12 584.67 235.76C585.23 235.41 585.80 235.06 586.37 234.72C586.95 234.38 587.53 234.06 588.12 233.75C588.71 233.43 589.30 233.13 589.90 232.83C590.49 232.54 591.10 232.25 591.70 231.98C592.31 231.71 592.92 231.45 593.54 231.20C594.16 230.95 594.78 230.71 595.41 230.48C596.03 230.25 596.66 230.03 597.30 229.83C597.93 229.62 598.57 229.43 599.21 229.24C599.85 229.06 600.49 228.88 601.14 228.71C601.78 228.55 602.43 228.39 603.08 228.25C603.73 228.10 604.38 227.96 605.03 227.83C605.69 227.70 606.34 227.58 607.00 227.48C607.66 227.37 608.32 227.27 608.98 227.17C609.64 227.08 610.30 227.00 610.96 226.92C611.63 226.85 612.29 226.78 612.95 226.71C613.62 226.65 614.28 226.59 614.94 226.53C615.61 226.48 616.27 226.43 616.94 226.39C617.61 226.34 618.27 226.30 618.94 226.26C619.60 226.22 620.31 226.19 620.94 226.16C621.56 226.13 622.06 226.11 622.69 226.08C623.31 226.05 624.02 226.03 624.68 226.00C625.35 225.98 626.02 225.95 626.68 225.93C627.35 225.90 628.02 225.88 628.68 225.86C629.35 225.84 630.02 225.82 630.69 225.79C631.35 225.77 632.02 225.75 632.69 225.73C633.35 225.71 634.02 225.69 634.69 225.67C635.35 225.65 636.02 225.63 636.69 225.61C637.35 225.60 638.02 225.58 638.69 225.56C639.35 225.54 640.02 225.53 640.69 225.51C641.35 225.49 642.02 225.47 642.69 225.46C643.35 225.44 644.02 225.42 644.69 225.41C645.36 225.39 646.02 225.37 646.69 225.36C647.36 225.34 648.02 225.33 648.69 225.31C649.36 225.29 650.02 225.28 650.69 225.26C651.36 225.25 652.02 225.23 652.69 225.22C653.36 225.20 654.03 225.18 654.69 225.17C655.36 225.15 656.03 225.14 656.69 225.12C657.36 225.11 658.03 225.09 658.69 225.08C659.36 225.06 660.03 225.04 660.69 225.03C661.36 225.01 662.03 225.00 662.70 224.98C663.36 224.97 664.03 224.95 664.70 224.93C665.36 224.92 666.03 224.90 666.70 224.88C667.36 224.87 668.03 224.85 668.70 224.83C669.36 224.81 670.03 224.80 670.70 224.78C671.36 224.76 672.03 224.74 672.70 224.72C673.37 224.70 674.03 224.68 674.70 224.67C675.37 224.65 676.03 224.63 676.70 224.61C677.37 224.59 678.37 224.56 678.70 224.55" stroke="#ff0000" stroke-width="2.20"/>
<path d="M397.60 228.60C397.93 228.60 398.93 228.58 399.60 228.58C400.27 228.58 400.94 228.58 401.60 228.60C402.27 228.62 402.93 228.66 403.60 228.72C404.26 228.77 404.93 228.84 405.59 228.91C406.25 228.98 406.92 229.06 407.58 229.14C408.24 229.22 408.90 229.30 409.57 229.37C410.23 229.45 410.89 229.53 411.55 229.61C412.22 229.69 412.88 229.77 413.54 229.84C414.21 229.92 414.87 229.99 415.53 230.06C416.20 230.14 416.86 230.20 417.52 230.28C418.18 230.36 418.85 230.44 419.51 230.53C420.17 230.62 420.83 230.73 421.49 230.83C422.15 230.93 422.80 231.04 423.46 231.14C424.12 231.24 424.78 231.34 425.44 231.43C426.11 231.51 426.77 231.59 427.43 231.67C428.09 231.76 428.75 231.84 429.42 231.94C430.08 232.03 430.73 232.14 431.39 232.25C432.05 232.36 432.71 232.48 433.36 232.59C434.02 232.70 434.68 232.81 435.34 232.91C436.00 233.01 436.66 233.09 437.32 233.17C437.98 233.26 438.65 233.33 439.31 233.42C439.97 233.51 440.63 233.62 441.28 233.73C441.94 233.85 442.59 233.99 443.25 234.13C443.90 234.27 444.55 234.43 445.20 234.58C445.85 234.73 446.46 234.87 447.14 235.04C447.83 235.20 448.65 235.39 449.33 235.57C450.02 235.75 450.62 235.91 451.26 236.10C451.90 236.28 452.54 236.48 453.17 236.69C453.81 236.90 454.44 237.12 455.06 237.35C455.69 237.57 456.31 237.81 456.94 238.06C457.56 238.30 458.17 238.55 458.79 238.81C459.41 239.06 460.02 239.32 460.64 239.58C461.25 239.84 461.87 240.10 462.48 240.36C463.10 240.61 463.71 240.87 464.33 241.13C464.94 241.39 465.56 241.65 466.18 241.90C466.79 242.15 467.41 242.40 468.03 242.65C468.65 242.90 469.27 243.15 469.89 243.40C470.51 243.65 471.13 243.90 471.74 244.15C472.36 244.41 472.97 244.67 473.59 244.93C474.20 245.19 474.82 245.45 475.44 245.70C476.05 245.95 476.68 246.19 477.30 246.43C477.92 246.67 478.55 246.90 479.18 247.12C479.80 247.35 480.43 247.58 481.06 247.79C481.70 248.00 482.33 248.19 482.97 248.40C483.60 248.60 484.26 248.76 484.86 249.01C485.47 249.26 486.08 249.52 486.60 249.89C487.12 250.27 487.56 250.75 487.98 251.25C488.39 251.75 488.70 252.36 489.10 252.88C489.49 253.41 489.88 253.95 490.34 254.41C490.81 254.87 491.35 255.26 491.89 255.64C492.43 256.02 493.02 256.34 493.59 256.69C494.16 257.03 494.73 257.38 495.30 257.72C495.87 258.07 496.43 258.44 497.00 258.78C497.57 259.12 498.15 259.45 498.74 259.76C499.33 260.06 499.94 260.34 500.55 260.61C501.16 260.88 501.78 261.11 502.40 261.38C503.01 261.64 503.62 261.91 504.22 262.19C504.83 262.48 505.42 262.78 506.01 263.09C506.60 263.40 507.19 263.72 507.78 264.04C508.36 264.35 508.95 264.67 509.54 264.99C510.12 265.31 510.71 265.62 511.29 265.96C511.86 266.29 512.43 266.64 512.98 267.01C513.53 267.39 514.06 267.79 514.58 268.21C515.10 268.62 515.61 269.06 516.10 269.51C516.60 269.95 517.08 270.41 517.56 270.88C518.03 271.35 518.50 271.82 518.95 272.32C519.40 272.81 519.83 273.31 520.23 273.84C520.63 274.37 521.00 274.93 521.34 275.50C521.68 276.07 521.98 276.67 522.27 277.27C522.57 277.86 522.83 278.48 523.11 279.08C523.39 279.69 523.66 280.30 523.94 280.91C524.21 281.51 524.50 282.12 524.77 282.73C525.03 283.34 525.29 283.95 525.52 284.58C525.75 285.20 525.96 285.84 526.15 286.47C526.34 287.11 526.49 287.72 526.67 288.41C526.85 289.09 527.05 289.90 527.24 290.58C527.44 291.26 527.63 291.86 527.83 292.49C528.03 293.13 528.25 293.76 528.44 294.40C528.62 295.04 528.80 295.68 528.94 296.33C529.09 296.98 529.19 297.64 529.31 298.30C529.42 298.96 529.50 299.62 529.62 300.28C529.73 300.93 529.86 301.59 529.99 302.24C530.13 302.89 530.30 303.54 530.45 304.19C530.59 304.84 530.75 305.49 530.87 306.14C530.99 306.80 531.09 307.46 531.17 308.12C531.26 308.78 531.32 309.44 531.39 310.11C531.46 310.77 531.53 311.43 531.62 312.10C531.70 312.76 531.81 313.42 531.91 314.07C532.02 314.73 532.14 315.39 532.25 316.05C532.36 316.71 532.46 317.37 532.56 318.02C532.66 318.68 532.75 319.35 532.84 320.01C532.94 320.67 533.03 321.33 533.13 321.99C533.23 322.65 533.32 323.31 533.43 323.97C533.53 324.63 533.64 325.28 533.75 325.94C533.85 326.60 533.96 327.26 534.06 327.92C534.15 328.58 534.25 329.24 534.33 329.90C534.42 330.56 534.49 331.23 534.58 331.89C534.66 332.55 534.74 333.21 534.83 333.87C534.92 334.54 535.02 335.20 535.12 335.85C535.23 336.51 535.34 337.17 535.45 337.83C535.57 338.49 535.74 339.47 535.80 339.80C535.85 339.47 535.99 338.48 536.10 337.82C536.20 337.16 536.31 336.51 536.42 335.85C536.54 335.19 536.66 334.54 536.78 333.88C536.90 333.23 537.02 332.57 537.13 331.92C537.24 331.26 537.35 330.60 537.44 329.94C537.54 329.28 537.62 328.62 537.71 327.96C537.79 327.30 537.86 326.64 537.94 325.97C538.02 325.31 538.10 324.65 538.18 323.99C538.27 323.33 538.36 322.67 538.45 322.01C538.54 321.35 538.63 320.69 538.71 320.02C538.80 319.36 538.89 318.70 538.97 318.04C539.05 317.38 539.12 316.72 539.19 316.05C539.26 315.39 539.33 314.73 539.39 314.06C539.45 313.40 539.50 312.73 539.55 312.07C539.60 311.41 539.65 310.74 539.70 310.08C539.75 309.41 539.79 308.75 539.84 308.08C539.89 307.42 539.93 306.75 539.99 306.09C540.05 305.42 540.11 304.80 540.20 304.10C540.28 303.40 540.40 302.57 540.51 301.88C540.63 301.18 540.75 300.56 540.86 299.91C540.98 299.25 541.11 298.60 541.23 297.94C541.35 297.29 541.46 296.63 541.58 295.98C541.70 295.32 541.81 294.66 541.93 294.01C542.05 293.35 542.17 292.70 542.31 292.04C542.44 291.39 542.59 290.74 542.73 290.09C542.88 289.44 543.03 288.79 543.18 288.14C543.34 287.49 543.49 286.84 543.64 286.20C543.79 285.55 543.94 284.90 544.10 284.25C544.26 283.60 544.42 282.95 544.58 282.31C544.75 281.66 544.92 281.02 545.09 280.37C545.26 279.73 545.44 279.09 545.62 278.44C545.79 277.80 545.97 277.16 546.15 276.52C546.32 275.87 546.50 275.23 546.67 274.59C546.85 273.94 547.02 273.30 547.21 272.66C547.40 272.02 547.59 271.39 547.80 270.75C548.01 270.12 548.23 269.49 548.45 268.86C548.67 268.23 548.90 267.61 549.12 266.98C549.34 266.35 549.56 265.72 549.77 265.09C549.98 264.46 550.18 263.82 550.38 263.19C550.59 262.55 550.78 261.92 551.00 261.29C551.21 260.66 551.43 260.03 551.67 259.41C551.91 258.79 552.17 258.17 552.45 257.58C552.73 256.98 553.04 256.39 553.37 255.81C553.70 255.24 554.06 254.68 554.43 254.13C554.81 253.58 555.20 253.05 555.60 252.51C556.00 251.98 556.41 251.45 556.82 250.93C557.24 250.41 557.65 249.89 558.08 249.38C558.51 248.87 558.95 248.37 559.39 247.87C559.84 247.38 560.29 246.89 560.76 246.42C561.23 245.94 561.70 245.48 562.19 245.02C562.68 244.57 563.17 244.12 563.68 243.69C564.19 243.26 564.71 242.85 565.23 242.44C565.76 242.04 566.31 241.65 566.86 241.28C567.41 240.91 567.97 240.55 568.54 240.20C569.10 239.85 569.68 239.52 570.26 239.20C570.85 238.88 571.40 238.58 572.03 238.26C572.66 237.94 573.40 237.57 574.04 237.26C574.68 236.95 575.25 236.69 575.85 236.41C576.46 236.14 577.07 235.87 577.68 235.61C578.30 235.35 578.91 235.10 579.53 234.85C580.15 234.60 580.78 234.37 581.40 234.13C582.02 233.89 582.64 233.66 583.27 233.42C583.89 233.19 584.52 232.95 585.14 232.72C585.77 232.49 586.39 232.26 587.02 232.04C587.65 231.83 588.28 231.62 588.92 231.43C589.56 231.24 590.20 231.07 590.85 230.91C591.49 230.75 592.15 230.61 592.80 230.47C593.45 230.33 594.10 230.20 594.76 230.07C595.41 229.95 596.07 229.82 596.72 229.71C597.38 229.60 598.04 229.49 598.70 229.40C599.35 229.30 600.02 229.22 600.68 229.15C601.34 229.08 602.00 229.02 602.67 228.97C603.33 228.91 604.00 228.87 604.66 228.83C605.33 228.79 605.99 228.76 606.66 228.73C607.33 228.70 607.99 228.68 608.66 228.67C609.32 228.65 609.99 228.65 610.66 228.65C611.32 228.66 611.99 228.68 612.65 228.70C613.32 228.73 613.99 228.77 614.65 228.83C615.31 228.88 615.98 228.94 616.64 229.03C617.30 229.11 617.96 229.20 618.61 229.32C619.27 229.43 619.92 229.56 620.57 229.71C621.22 229.85 621.86 230.02 622.51 230.19C623.15 230.36 623.79 230.55 624.43 230.74C625.07 230.93 625.70 231.13 626.34 231.33C626.98 231.52 627.61 231.72 628.25 231.91C628.89 232.09 629.53 232.28 630.18 232.45C630.82 232.61 631.47 232.76 632.12 232.91C632.77 233.05 633.42 233.17 634.07 233.31C634.72 233.45 635.37 233.58 636.02 233.75C636.66 233.91 637.29 234.09 637.93 234.29C638.56 234.49 639.18 234.73 639.80 234.95C640.43 235.17 641.05 235.40 641.68 235.60C642.31 235.80 642.91 235.96 643.59 236.14C644.27 236.31 645.09 236.47 645.77 236.64C646.46 236.80 647.06 236.94 647.69 237.13C648.33 237.32 648.95 237.54 649.57 237.77C650.19 238.00 650.80 238.27 651.42 238.52C652.03 238.76 652.65 239.02 653.27 239.25C653.89 239.49 654.52 239.70 655.15 239.92C655.77 240.14 656.40 240.35 657.03 240.58C657.65 240.81 658.27 241.06 658.88 241.32C659.49 241.57 660.09 241.86 660.70 242.14C661.30 242.42 661.90 242.71 662.50 243.00C663.10 243.28 663.71 243.56 664.31 243.84C664.92 244.11 665.53 244.38 666.13 244.66C666.74 244.94 667.34 245.22 667.94 245.52C668.54 245.81 669.13 246.12 669.72 246.43C670.31 246.74 670.89 247.06 671.48 247.37C672.07 247.68 672.66 248.00 673.25 248.30C673.85 248.59 674.45 248.88 675.05 249.17C675.65 249.45 676.26 249.72 676.87 249.99C677.48 250.27 678.39 250.67 678.70 250.80" stroke="#0000ff" stroke-width="1.90" stroke-dasharray="5.854 5.088"/>
</g>
<g class="t" font-size="9.02">
<text x="397.45" y="373.20" text-anchor="middle">4</text><text x="432.57" y="373.20" text-anchor="middle">4.5</text><text x="467.70" y="373.20" text-anchor="middle">5</text><text x="502.82" y="373.20" text-anchor="middle">5.5</text><text x="537.95" y="373.20" text-anchor="middle">6</text><text x="573.08" y="373.20" text-anchor="middle">6.5</text><text x="608.20" y="373.20" text-anchor="middle">7</text><text x="643.33" y="373.20" text-anchor="middle">7.5</text><text x="678.45" y="373.20" text-anchor="middle">8</text>
<text x="392.90" y="221.65" text-anchor="end">0</text><text x="392.90" y="245.32" text-anchor="end">-5</text><text x="392.90" y="268.98" text-anchor="end">-10</text><text x="392.90" y="292.65" text-anchor="end">-15</text><text x="392.90" y="316.32" text-anchor="end">-20</text><text x="392.90" y="339.98" text-anchor="end">-25</text><text x="392.90" y="363.65" text-anchor="end">-30</text>
</g>
<text class="t" font-size="10.29" x="538.10" y="386.80" text-anchor="middle">Frequency [Ghz]</text>
<text class="t" font-size="10.29" text-anchor="middle" transform="translate(374.50 288.90) rotate(-90)">S11 dB</text>
<rect x="575.00" y="266.00" width="65.00" height="25.50" fill="#fff"/>
<rect x="575.00" y="266.00" width="1.00" height="25.70" fill="#585858"/><rect x="575.00" y="266.00" width="65.00" height="1.00" fill="#606060"/><rect x="639.00" y="266.00" width="1.00" height="25.70" fill="#606060"/><rect x="575.00" y="290.00" width="65.00" height="1.70" fill="#959595"/>
<path d="M577.90 273.15H598.70" stroke="#ff0000" stroke-width="2.00" fill="none"/>
<path d="M577.90 284.90H583.30M588.80 284.90H594.10" stroke="#0000ff" stroke-width="1.90" fill="none"/>
<text class="t lg" style="fill:#1a1a1a" font-size="8.30" x="600.40" y="276.05">Simulated</text>
<text class="t lg" style="fill:#1a1a1a" font-size="8.30" x="600.40" y="287.95">Measured</text>
<text class="cap" font-size="19.80" x="508.00" y="409.60" text-anchor="middle">(d)</text>
</g>
</svg>
</body></html>
